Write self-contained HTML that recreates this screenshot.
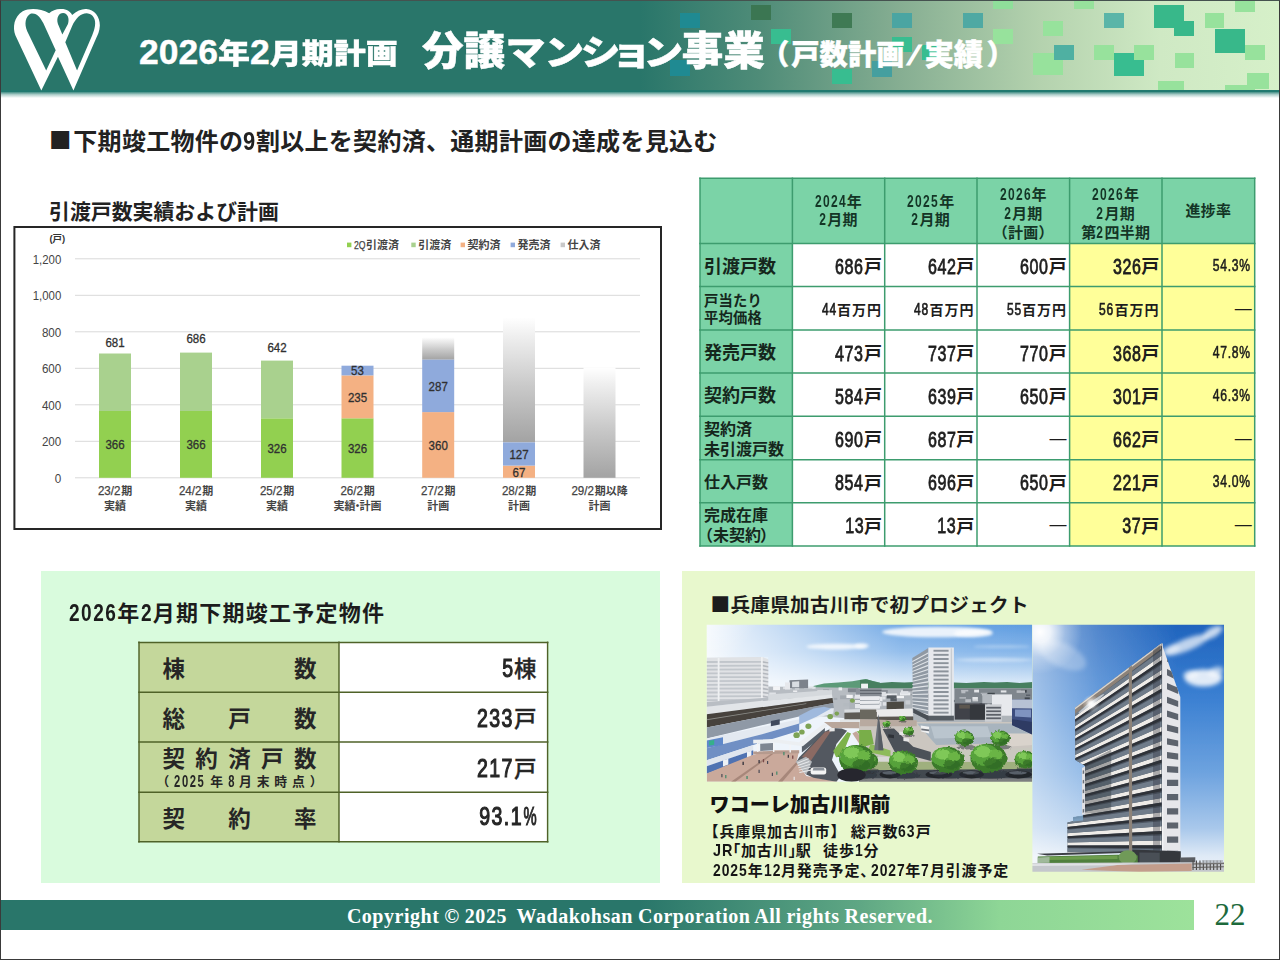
<!DOCTYPE html>
<html lang="ja">
<head>
<meta charset="utf-8">
<title>2026年2月期計画 分譲マンション事業（戸数計画/実績）</title>
<style>
*{box-sizing:border-box;margin:0;padding:0}
html,body{width:1280px;height:960px;overflow:hidden;background:#fff}
body{font-family:"Liberation Sans","Noto Sans CJK JP",sans-serif;color:#222}
#slide{position:absolute;left:0;top:0;width:1280px;height:960px;background:#fff;overflow:hidden}
.abs{position:absolute}
.nw{white-space:nowrap}
.n{display:inline-block;font-family:"Liberation Sans",sans-serif}
.cj{font-family:"Noto Sans CJK JP",sans-serif}
/* frame */
#frame{position:absolute;left:0;top:0;width:1280px;height:960px;border:1px solid #3a3a3a;border-top:1.5px solid #45524f;pointer-events:none;z-index:50}
/* header */
#hdr{position:absolute;left:0;top:0;width:1280px;height:92px;background:linear-gradient(90deg,#29766a 0,#29766a 640px,#4f8c78 760px,#86ae92 900px,#b4d2ae 1040px,#cfe9c4 1160px,#d6f0c9 1280px);border-bottom:2px solid #217a70;overflow:hidden}
#hdrshadow{position:absolute;left:0;top:92px;width:1280px;height:6px;background:linear-gradient(180deg,rgba(33,122,112,.85),rgba(33,122,112,.35) 45%,rgba(33,122,112,0))}
.sq{position:absolute}
.ttl{position:absolute;color:#fff;white-space:nowrap;font-family:"Liberation Sans","Noto Sans CJK JP",sans-serif}
/* footer */
#ftr{position:absolute;left:0;top:900px;width:1194px;height:30px;background:linear-gradient(90deg,#29766a 0,#29766a 640px,#5fa784 860px,#8ed696 1000px,#9de29b 1194px)}
#ftrtxt{position:absolute;left:0;top:901.5px;width:1280px;height:30px;line-height:29px;text-align:center;color:#fff;font-family:"Liberation Serif","DejaVu Serif",serif;font-weight:bold;font-size:20px;word-spacing:-.5px;letter-spacing:.52px;white-space:pre}
#pgno{position:absolute;left:1200px;top:894.5px;width:60px;text-align:center;font-family:"Liberation Serif",serif;font-size:31px;color:#1d6a3c;line-height:40px}
/* table */
.th,.tl,.td{position:absolute;display:flex;align-items:center;white-space:nowrap}
.th{justify-content:center;text-align:center;font-size:15px;line-height:18.8px;letter-spacing:.3px;font-weight:bold;color:#143526}
.tl{justify-content:flex-start;padding-left:4px;padding-top:3.6px;font-weight:bold;color:#15271c}
.tl.r18{font-size:18px;line-height:20px}
.tl.r16{font-size:16px;line-height:20px}
.tl.r14{font-size:14.3px;line-height:16.9px;letter-spacing:.2px}
.td{justify-content:flex-end;padding-right:2.8px;padding-top:2px;color:#1d1d1d}
.td.vb{font-size:18px;font-weight:bold}
.td.vs{font-size:14px;font-weight:bold;letter-spacing:1px;padding-right:2.6px}
.td.pct{font-size:13px;padding-right:3.6px}
.td.dash{font-size:17px;font-weight:500;padding-right:3px}
/* panels */
#pl{position:absolute;left:41px;top:570.5px;width:619px;height:312.5px;background:#d9fbdd}
#pr{position:absolute;left:682px;top:570.5px;width:573px;height:312.5px;background:#e8f8cd}
/* mini table */
.ml{position:absolute;display:flex;flex-direction:column;justify-content:center;padding:4.4px 22.5px 0 23.5px;color:#262626;font-weight:bold}
.mlrow{display:flex;justify-content:space-between;font-size:22.5px;line-height:25px;white-space:nowrap}
.mlsub{display:flex;justify-content:space-between;font-size:12.8px;line-height:16px;white-space:nowrap;font-weight:bold;margin:2.5px -6px 0 -6px}
.mv{position:absolute;display:flex;align-items:center;justify-content:flex-end;padding-right:11px;font-size:22.5px;font-weight:500;-webkit-text-stroke:.3px #262626;color:#262626;white-space:nowrap}
.cap{font-size:15px;line-height:20px;font-weight:bold;color:#151515;letter-spacing:.85px}

</style>
</head>
<body>
<div id="slide">

<!-- ================= HEADER ================= -->
<div id="hdr">
<div class="sq" style="left:680px;top:12.5px;width:20px;height:15px;background:#1f8a92"></div>
<div class="sq" style="left:670px;top:60px;width:20px;height:16px;background:#1f8a92"></div>
<div class="sq" style="left:751px;top:5px;width:20px;height:15px;background:#3b7652"></div>
<div class="sq" style="left:771px;top:29px;width:20px;height:15px;background:#38bd90"></div>
<div class="sq" style="left:832px;top:13px;width:20px;height:15px;background:#3f7a54"></div>
<div class="sq" style="left:892px;top:12.5px;width:20px;height:15px;background:#4aa5a2"></div>
<div class="sq" style="left:892px;top:36.5px;width:20px;height:15px;background:#38bd90"></div>
<div class="sq" style="left:832px;top:68.5px;width:20px;height:15.5px;background:#38bd90"></div>
<div class="sq" style="left:872px;top:60.5px;width:20px;height:16px;background:#459f9f"></div>
<div class="sq" style="left:922px;top:45px;width:20px;height:15px;background:#38bd90"></div>
<div class="sq" style="left:962.5px;top:13px;width:20px;height:15px;background:#4fa9a3"></div>
<div class="sq" style="left:992.5px;top:29px;width:20px;height:15px;background:#97e29c"></div>
<div class="sq" style="left:992.5px;top:0px;width:20px;height:9px;background:#8fdf9a"></div>
<div class="sq" style="left:1042.5px;top:21px;width:20px;height:15px;background:#97e29c"></div>
<div class="sq" style="left:1074px;top:0px;width:20px;height:9px;background:#97e29c"></div>
<div class="sq" style="left:1104px;top:13px;width:19.5px;height:15px;background:#5ab5a8"></div>
<div class="sq" style="left:1154px;top:5px;width:30px;height:23px;background:#38b88a"></div>
<div class="sq" style="left:1174px;top:21px;width:20px;height:15px;background:#38b88a"></div>
<div class="sq" style="left:1204.5px;top:13px;width:19.5px;height:15px;background:#97e29c"></div>
<div class="sq" style="left:1235px;top:0px;width:19.5px;height:12px;background:#97e29c"></div>
<div class="sq" style="left:1215px;top:29px;width:30px;height:23.5px;background:#38b88a"></div>
<div class="sq" style="left:1245px;top:45px;width:19.5px;height:15px;background:#97e29c"></div>
<div class="sq" style="left:1033px;top:52.5px;width:30px;height:22.5px;background:#97e29c"></div>
<div class="sq" style="left:1054px;top:44.5px;width:19.5px;height:15.5px;background:#4fb0a2"></div>
<div class="sq" style="left:1094px;top:45px;width:19.5px;height:15px;background:#97e29c"></div>
<div class="sq" style="left:1114px;top:52.5px;width:30px;height:23.5px;background:#38bd90"></div>
<div class="sq" style="left:1134px;top:45px;width:20px;height:15px;background:#97e29c"></div>
<div class="sq" style="left:1174.5px;top:52.5px;width:19.5px;height:15px;background:#97e29c"></div>
<div class="sq" style="left:1157.5px;top:81px;width:26.5px;height:11px;background:#97e29c"></div>
<div class="sq" style="left:1247px;top:72.5px;width:22px;height:16.5px;background:#97e29c"></div>
<div class="sq" style="left:1225px;top:84.5px;width:30px;height:7px;background:#97e29c"></div>
</div>
<div id="hdrshadow"></div>
<svg class="abs" id="logo" style="left:8px;top:2.8px" width="100" height="94" viewBox="0 0 1021 960"><path fill="#fff" fill-rule="evenodd" d="M340,893 L75,330 C45,250 60,140 150,85 C220,50 330,55 420,105 C450,75 500,58 545,62 C600,62 640,90 655,122 C700,80 760,58 800,62 C880,65 940,140 938,230 C936,290 915,330 900,360 L668,893 L510,548 Z M390,690 L195,285 C165,215 175,140 235,108 C290,95 335,150 360,205 L487,482 Z M555,322 L510,215 C490,150 520,102 562,102 C610,105 630,160 612,215 Z M705,690 L585,400 L655,235 C690,160 740,105 805,105 C870,110 900,170 888,235 C880,280 870,300 860,330 Z"/></svg>
<div class="ttl" id="t1" style="left:139px;top:29px;font-size:32px;line-height:46px;font-weight:900;-webkit-text-stroke:.4px #fff"><span style="font-size:35.5px;font-weight:bold">2026</span><span style="display:inline-block;transform:scaleY(.9);transform-origin:50% 80%">年</span><span style="font-size:35.5px;font-weight:bold">2</span><span style="display:inline-block;transform:scaleY(.9);transform-origin:50% 80%">月期計画</span></div>
<div class="ttl" id="t2" style="left:422px;top:22.5px;font-size:41.5px;line-height:56px;font-weight:900;-webkit-text-stroke:.5px #fff"><span style="display:inline-block;transform:scaleY(.945);transform-origin:50% 80%">分譲</span><span style="display:inline-block;font-size:40px;transform:scaleY(.875);transform-origin:50% 76%;margin-left:.5px;margin-right:-1.2px">マ</span><span style="display:inline-block;font-size:40px;transform:scaleY(.875);transform-origin:50% 76%;margin-right:-3.8px">ン</span><span style="display:inline-block;font-size:40px;transform:scaleY(.875);transform-origin:50% 76%;margin-right:-9.2px">シ</span><span style="display:inline-block;font-size:40px;transform:scaleY(.875);transform-origin:50% 76%;margin-right:-8.2px">ョ</span><span style="display:inline-block;font-size:40px;transform:scaleY(.875);transform-origin:50% 76%;margin-right:-1.5px">ン</span><span style="display:inline-block;transform:scaleY(.945);transform-origin:50% 80%">事業</span></div>
<div class="ttl" id="t3" style="left:761px;top:32px;font-size:28.3px;line-height:46px;font-weight:900;-webkit-text-stroke:.4px #fff"><span style="margin-right:2px">（</span>戸数計画<span style="display:inline-block;transform:skewX(-20deg) scaleX(1.25);-webkit-text-stroke:0;margin:0 6.5px 0 5.5px">/</span><span style="font-size:29.3px">実績</span><span style="margin-left:3.5px">）</span></div>

<!-- subtitle -->
<div class="abs nw" id="sub" style="left:49px;top:122px;font-size:24px;line-height:36px;font-weight:bold;color:#222;letter-spacing:.3px"><span class="cj" style="font-size:22.4px;position:relative;top:-.6px;margin-right:1.6px">■</span>下期竣工物件の<span class="n" style="font-size:25.5px;font-weight:bold;transform:scaleX(0.86);transform-origin:50% 50%;margin:0 -0.99px;">9</span>割以上を契約済、通期計画の達成を見込む</div>

<!-- ================= CHART ================= -->
<div class="abs nw" id="ctitle" style="left:49px;top:196.7px;font-size:20.9px;line-height:30px;font-weight:bold;letter-spacing:0;color:#222">引渡戸数実績および計画</div>
<svg class="abs" id="chart" style="left:0;top:220px" width="680" height="320" viewBox="0 220 680 320" font-family="'Liberation Sans','Noto Sans CJK JP',sans-serif">
<defs><linearGradient id="gg" x1="0" y1="1" x2="0" y2="0"><stop offset="0" stop-color="#a3a3a3"/><stop offset=".45" stop-color="#c9c9c9"/><stop offset=".85" stop-color="#efefef"/><stop offset="1" stop-color="#ffffff"/></linearGradient></defs>
<rect x="14.4" y="227" width="646.6" height="302" fill="#fff" stroke="#262626" stroke-width="2"/>
<line x1="75" x2="640" y1="477.8" y2="477.8" stroke="#d9d9d9" stroke-width="1"/>
<text x="61.3" y="482.5" text-anchor="end" font-size="13" fill="#444" textLength="6.5" lengthAdjust="spacingAndGlyphs">0</text>
<line x1="75" x2="640" y1="441.3" y2="441.3" stroke="#d9d9d9" stroke-width="1"/>
<text x="61.3" y="446.0" text-anchor="end" font-size="13" fill="#444" textLength="19.4" lengthAdjust="spacingAndGlyphs">200</text>
<line x1="75" x2="640" y1="404.8" y2="404.8" stroke="#d9d9d9" stroke-width="1"/>
<text x="61.3" y="409.5" text-anchor="end" font-size="13" fill="#444" textLength="19.4" lengthAdjust="spacingAndGlyphs">400</text>
<line x1="75" x2="640" y1="368.3" y2="368.3" stroke="#d9d9d9" stroke-width="1"/>
<text x="61.3" y="373.0" text-anchor="end" font-size="13" fill="#444" textLength="19.4" lengthAdjust="spacingAndGlyphs">600</text>
<line x1="75" x2="640" y1="331.8" y2="331.8" stroke="#d9d9d9" stroke-width="1"/>
<text x="61.3" y="336.5" text-anchor="end" font-size="13" fill="#444" textLength="19.4" lengthAdjust="spacingAndGlyphs">800</text>
<line x1="75" x2="640" y1="295.3" y2="295.3" stroke="#d9d9d9" stroke-width="1"/>
<text x="61.3" y="300.0" text-anchor="end" font-size="13" fill="#444" textLength="28.6" lengthAdjust="spacingAndGlyphs">1,000</text>
<line x1="75" x2="640" y1="258.8" y2="258.8" stroke="#d9d9d9" stroke-width="1"/>
<text x="61.3" y="263.5" text-anchor="end" font-size="13" fill="#444" textLength="28.6" lengthAdjust="spacingAndGlyphs">1,200</text>
<text x="57.3" y="242.3" text-anchor="middle" font-size="9.5" font-weight="bold" fill="#333">(戸)</text>
<rect x="422.2" y="337.3" width="32" height="22.4" fill="url(#gg)"/>
<rect x="503.0" y="317.2" width="32" height="125.2" fill="url(#gg)"/>
<rect x="583.5" y="367.4" width="32" height="110.4" fill="url(#gg)"/>
<rect x="99.0" y="411.0" width="32" height="66.8" fill="#92d050"/>
<rect x="99.0" y="353.5" width="32" height="57.5" fill="#a9d18e"/>
<rect x="180.0" y="411.0" width="32" height="66.8" fill="#92d050"/>
<rect x="180.0" y="352.6" width="32" height="58.4" fill="#a9d18e"/>
<rect x="261.0" y="418.3" width="32" height="59.5" fill="#92d050"/>
<rect x="261.0" y="360.6" width="32" height="57.7" fill="#a9d18e"/>
<rect x="341.5" y="418.3" width="32" height="59.5" fill="#92d050"/>
<rect x="341.5" y="375.4" width="32" height="42.9" fill="#f4b183"/>
<rect x="341.5" y="365.7" width="32" height="9.7" fill="#8faadc"/>
<rect x="422.2" y="412.1" width="32" height="65.7" fill="#f4b183"/>
<rect x="422.2" y="359.7" width="32" height="52.4" fill="#8faadc"/>
<rect x="503.0" y="465.6" width="32" height="12.2" fill="#f4b183"/>
<rect x="503.0" y="442.4" width="32" height="23.2" fill="#8faadc"/>
<text x="115" y="449.1" text-anchor="middle" font-size="13.3" fill="#303030" stroke="#303030" stroke-width=".32" textLength="19.2" lengthAdjust="spacingAndGlyphs">366</text>
<text x="196" y="449.1" text-anchor="middle" font-size="13.3" fill="#303030" stroke="#303030" stroke-width=".32" textLength="19.2" lengthAdjust="spacingAndGlyphs">366</text>
<text x="277" y="452.8" text-anchor="middle" font-size="13.3" fill="#303030" stroke="#303030" stroke-width=".32" textLength="19.2" lengthAdjust="spacingAndGlyphs">326</text>
<text x="357.5" y="452.8" text-anchor="middle" font-size="13.3" fill="#303030" stroke="#303030" stroke-width=".32" textLength="19.2" lengthAdjust="spacingAndGlyphs">326</text>
<text x="115" y="346.7" text-anchor="middle" font-size="13.3" fill="#303030" stroke="#303030" stroke-width=".32" textLength="19.2" lengthAdjust="spacingAndGlyphs">681</text>
<text x="196" y="343.3" text-anchor="middle" font-size="13.3" fill="#303030" stroke="#303030" stroke-width=".32" textLength="19.2" lengthAdjust="spacingAndGlyphs">686</text>
<text x="277" y="351.5" text-anchor="middle" font-size="13.3" fill="#303030" stroke="#303030" stroke-width=".32" textLength="19.2" lengthAdjust="spacingAndGlyphs">642</text>
<text x="357.5" y="401.7" text-anchor="middle" font-size="13.3" fill="#303030" stroke="#303030" stroke-width=".32" textLength="19.2" lengthAdjust="spacingAndGlyphs">235</text>
<text x="357.5" y="375.4" text-anchor="middle" font-size="13.3" fill="#303030" stroke="#303030" stroke-width=".32" textLength="12.8" lengthAdjust="spacingAndGlyphs">53</text>
<text x="438.2" y="449.7" text-anchor="middle" font-size="13.3" fill="#303030" stroke="#303030" stroke-width=".32" textLength="19.2" lengthAdjust="spacingAndGlyphs">360</text>
<text x="438.2" y="390.7" text-anchor="middle" font-size="13.3" fill="#303030" stroke="#303030" stroke-width=".32" textLength="19.2" lengthAdjust="spacingAndGlyphs">287</text>
<text x="519" y="458.9" text-anchor="middle" font-size="13.3" fill="#303030" stroke="#303030" stroke-width=".32" textLength="19.2" lengthAdjust="spacingAndGlyphs">127</text>
<text x="519" y="476.5" text-anchor="middle" font-size="13.3" fill="#303030" stroke="#303030" stroke-width=".32" textLength="12.8" lengthAdjust="spacingAndGlyphs">67</text>
<text x="97.9" y="495.2" font-size="12.6" fill="#444" stroke="#444" stroke-width=".25" textLength="22.6" lengthAdjust="spacingAndGlyphs">23/2</text>
<text x="121.3" y="495" font-size="11" font-weight="bold" fill="#444">期</text>
<text x="115" y="509.5" text-anchor="middle" font-size="11" font-weight="bold" fill="#444">実績</text>
<text x="178.9" y="495.2" font-size="12.6" fill="#444" stroke="#444" stroke-width=".25" textLength="22.6" lengthAdjust="spacingAndGlyphs">24/2</text>
<text x="202.3" y="495" font-size="11" font-weight="bold" fill="#444">期</text>
<text x="196" y="509.5" text-anchor="middle" font-size="11" font-weight="bold" fill="#444">実績</text>
<text x="259.9" y="495.2" font-size="12.6" fill="#444" stroke="#444" stroke-width=".25" textLength="22.6" lengthAdjust="spacingAndGlyphs">25/2</text>
<text x="283.3" y="495" font-size="11" font-weight="bold" fill="#444">期</text>
<text x="277" y="509.5" text-anchor="middle" font-size="11" font-weight="bold" fill="#444">実績</text>
<text x="340.4" y="495.2" font-size="12.6" fill="#444" stroke="#444" stroke-width=".25" textLength="22.6" lengthAdjust="spacingAndGlyphs">26/2</text>
<text x="363.8" y="495" font-size="11" font-weight="bold" fill="#444">期</text>
<text x="357.5" y="509.5" text-anchor="middle" font-size="11" font-weight="bold" fill="#444">実績<tspan dx="-3.6">・</tspan><tspan dx="-3.6">計画</tspan></text>
<text x="421.1" y="495.2" font-size="12.6" fill="#444" stroke="#444" stroke-width=".25" textLength="22.6" lengthAdjust="spacingAndGlyphs">27/2</text>
<text x="444.5" y="495" font-size="11" font-weight="bold" fill="#444">期</text>
<text x="438.2" y="509.5" text-anchor="middle" font-size="11" font-weight="bold" fill="#444">計画</text>
<text x="501.9" y="495.2" font-size="12.6" fill="#444" stroke="#444" stroke-width=".25" textLength="22.6" lengthAdjust="spacingAndGlyphs">28/2</text>
<text x="525.3" y="495" font-size="11" font-weight="bold" fill="#444">期</text>
<text x="519" y="509.5" text-anchor="middle" font-size="11" font-weight="bold" fill="#444">計画</text>
<text x="571.4" y="495.2" font-size="12.6" fill="#444" stroke="#444" stroke-width=".25" textLength="22.6" lengthAdjust="spacingAndGlyphs">29/2</text>
<text x="594.8" y="495" font-size="11" font-weight="bold" fill="#444">期以降</text>
<text x="599.5" y="509.5" text-anchor="middle" font-size="11" font-weight="bold" fill="#444">計画</text>
<rect x="347" y="242.6" width="4.4" height="4.6" fill="#92d050"/>
<text x="354" y="248.6" font-size="11.5" fill="#444" stroke="#444" stroke-width=".25" textLength="11.6" lengthAdjust="spacingAndGlyphs">2Q</text>
<text x="366" y="248.6" font-size="11" font-weight="bold" fill="#444">引渡済</text>
<rect x="411.3" y="242.6" width="4.4" height="4.6" fill="#a9d18e"/>
<text x="418.3" y="248.6" font-size="11" font-weight="bold" fill="#444">引渡済</text>
<rect x="460.6" y="242.6" width="4.4" height="4.6" fill="#f4b183"/>
<text x="467.6" y="248.6" font-size="11" font-weight="bold" fill="#444">契約済</text>
<rect x="510.6" y="242.6" width="4.4" height="4.6" fill="#8faadc"/>
<text x="517.6" y="248.6" font-size="11" font-weight="bold" fill="#444">発売済</text>
<rect x="560.6" y="242.6" width="4.4" height="4.6" fill="#c8c8c8"/>
<text x="567.6" y="248.6" font-size="11" font-weight="bold" fill="#444">仕入済</text>
</svg>

<!-- ================= TABLE ================= -->
<svg class="abs" id="tblbg" style="left:690px;top:170px" width="580" height="390" viewBox="690 170 580 390">
<rect x="700" y="178.3" width="554.7" height="367.7" fill="#fff"/>
<rect x="700" y="178.3" width="554.7" height="65.1" fill="#7bd3a7"/>
<rect x="700" y="178.3" width="92.4" height="367.7" fill="#7bd3a7"/>
<rect x="1069.6" y="243.4" width="185.1" height="302.6" fill="#ffff99"/>
<line x1="700" x2="700" y1="177.55" y2="546.75" stroke="#3d9c6e" stroke-width="1.5"/>
<line x1="792.4" x2="792.4" y1="177.55" y2="546.75" stroke="#3d9c6e" stroke-width="1.5"/>
<line x1="884.7" x2="884.7" y1="177.55" y2="546.75" stroke="#3d9c6e" stroke-width="1.5"/>
<line x1="977" x2="977" y1="177.55" y2="546.75" stroke="#3d9c6e" stroke-width="1.5"/>
<line x1="1069.6" x2="1069.6" y1="177.55" y2="546.75" stroke="#3d9c6e" stroke-width="1.5"/>
<line x1="1162" x2="1162" y1="177.55" y2="546.75" stroke="#3d9c6e" stroke-width="1.5"/>
<line x1="1254.7" x2="1254.7" y1="177.55" y2="546.75" stroke="#3d9c6e" stroke-width="1.5"/>
<line x1="699.25" x2="1255.45" y1="178.3" y2="178.3" stroke="#3d9c6e" stroke-width="1.5"/>
<line x1="699.25" x2="1255.45" y1="243.4" y2="243.4" stroke="#3d9c6e" stroke-width="1.5"/>
<line x1="699.25" x2="1255.45" y1="286.5" y2="286.5" stroke="#3d9c6e" stroke-width="1.5"/>
<line x1="699.25" x2="1255.45" y1="330" y2="330" stroke="#3d9c6e" stroke-width="1.5"/>
<line x1="699.25" x2="1255.45" y1="373" y2="373" stroke="#3d9c6e" stroke-width="1.5"/>
<line x1="699.25" x2="1255.45" y1="416.3" y2="416.3" stroke="#3d9c6e" stroke-width="1.5"/>
<line x1="699.25" x2="1255.45" y1="459.7" y2="459.7" stroke="#3d9c6e" stroke-width="1.5"/>
<line x1="699.25" x2="1255.45" y1="502.8" y2="502.8" stroke="#3d9c6e" stroke-width="1.5"/>
<line x1="699.25" x2="1255.45" y1="546" y2="546" stroke="#3d9c6e" stroke-width="1.5"/>
</svg>
<div class="th" style="left:792.4px;width:92.3px;top:178.3px;height:65.1px;padding-top:1px"><div><span class="n" style="font-size:15.8px;letter-spacing:1.7px;font-weight:bold;transform:scaleX(0.76);transform-origin:50% 50%;margin:0 -5.04px;">2024</span>年<br><span class="n" style="font-size:15.8px;letter-spacing:1.7px;font-weight:bold;transform:scaleX(0.76);transform-origin:50% 50%;margin:0 -1.26px;">2</span>月期</div></div>
<div class="th" style="left:884.7px;width:92.3px;top:178.3px;height:65.1px;padding-top:1px"><div><span class="n" style="font-size:15.8px;letter-spacing:1.7px;font-weight:bold;transform:scaleX(0.76);transform-origin:50% 50%;margin:0 -5.04px;">2025</span>年<br><span class="n" style="font-size:15.8px;letter-spacing:1.7px;font-weight:bold;transform:scaleX(0.76);transform-origin:50% 50%;margin:0 -1.26px;">2</span>月期</div></div>
<div class="th" style="left:977px;width:92.6px;top:178.3px;height:65.1px;padding-top:7px"><div><span class="n" style="font-size:15.8px;letter-spacing:1.7px;font-weight:bold;transform:scaleX(0.76);transform-origin:50% 50%;margin:0 -5.04px;">2026</span>年<br><span class="n" style="font-size:15.8px;letter-spacing:1.7px;font-weight:bold;transform:scaleX(0.76);transform-origin:50% 50%;margin:0 -1.26px;">2</span>月期<br>（計画）</div></div>
<div class="th" style="left:1069.6px;width:92.4px;top:178.3px;height:65.1px;padding-top:7px"><div><span class="n" style="font-size:15.8px;letter-spacing:1.7px;font-weight:bold;transform:scaleX(0.76);transform-origin:50% 50%;margin:0 -5.04px;">2026</span>年<br><span class="n" style="font-size:15.8px;letter-spacing:1.7px;font-weight:bold;transform:scaleX(0.76);transform-origin:50% 50%;margin:0 -1.26px;">2</span>月期<br>第<span class="n" style="font-size:15.8px;letter-spacing:1.7px;font-weight:bold;transform:scaleX(0.76);transform-origin:50% 50%;margin:0 -1.26px;">2</span>四半期</div></div>
<div class="th" style="left:1162px;width:92.7px;top:178.3px;height:65.1px;padding-top:1px"><div>進捗率</div></div>
<div class="tl r18" style="left:700px;width:92.4px;top:243.4px;height:43.1px"><div>引渡戸数</div></div>
<div class="td vb" style="left:792.4px;width:92.3px;top:243.4px;height:43.1px"><div><span class="n" style="font-size:22.3px;letter-spacing:0.75px;font-weight:normal;transform:scaleX(0.72);transform-origin:100% 50%;margin-left:-11.04px;position:relative;top:.6px;-webkit-text-stroke:.8px #1d1d1d">686</span>戸</div></div>
<div class="td vb" style="left:884.7px;width:92.3px;top:243.4px;height:43.1px"><div><span class="n" style="font-size:22.3px;letter-spacing:0.75px;font-weight:normal;transform:scaleX(0.72);transform-origin:100% 50%;margin-left:-11.04px;position:relative;top:.6px;-webkit-text-stroke:.8px #1d1d1d">642</span>戸</div></div>
<div class="td vb" style="left:977px;width:92.6px;top:243.4px;height:43.1px"><div><span class="n" style="font-size:22.3px;letter-spacing:0.75px;font-weight:normal;transform:scaleX(0.72);transform-origin:100% 50%;margin-left:-11.04px;position:relative;top:.6px;-webkit-text-stroke:.8px #1d1d1d">600</span>戸</div></div>
<div class="td vb" style="left:1069.6px;width:92.4px;top:243.4px;height:43.1px"><div><span class="n" style="font-size:22.3px;letter-spacing:0.75px;font-weight:normal;transform:scaleX(0.72);transform-origin:100% 50%;margin-left:-11.04px;position:relative;top:.6px;-webkit-text-stroke:.8px #1d1d1d">326</span>戸</div></div>
<div class="td pct" style="left:1162px;width:92.7px;top:243.4px;height:43.1px"><div><span class="n" style="font-size:15.6px;letter-spacing:0.9px;font-weight:normal;transform:scaleX(0.78);transform-origin:100% 50%;margin-left:-10.72px;-webkit-text-stroke:.55px #1d1d1d">54.3%</span></div></div>
<div class="tl r14" style="left:700px;width:92.4px;top:286.5px;height:43.5px"><div>戸当たり<br>平均価格</div></div>
<div class="td vs" style="left:792.4px;width:92.3px;top:286.5px;height:43.5px"><div><span class="n" style="font-size:16px;letter-spacing:1.1px;font-weight:normal;transform:scaleX(0.75);transform-origin:100% 50%;margin-left:-5.0px;-webkit-text-stroke:.7px #1d1d1d">44</span>百万円</div></div>
<div class="td vs" style="left:884.7px;width:92.3px;top:286.5px;height:43.5px"><div><span class="n" style="font-size:16px;letter-spacing:1.1px;font-weight:normal;transform:scaleX(0.75);transform-origin:100% 50%;margin-left:-5.0px;-webkit-text-stroke:.7px #1d1d1d">48</span>百万円</div></div>
<div class="td vs" style="left:977px;width:92.6px;top:286.5px;height:43.5px"><div><span class="n" style="font-size:16px;letter-spacing:1.1px;font-weight:normal;transform:scaleX(0.75);transform-origin:100% 50%;margin-left:-5.0px;-webkit-text-stroke:.7px #1d1d1d">55</span>百万円</div></div>
<div class="td vs" style="left:1069.6px;width:92.4px;top:286.5px;height:43.5px"><div><span class="n" style="font-size:16px;letter-spacing:1.1px;font-weight:normal;transform:scaleX(0.75);transform-origin:100% 50%;margin-left:-5.0px;-webkit-text-stroke:.7px #1d1d1d">56</span>百万円</div></div>
<div class="td dash" style="left:1162px;width:92.7px;top:286.5px;height:43.5px"><div>―</div></div>
<div class="tl r18" style="left:700px;width:92.4px;top:330px;height:43px"><div>発売戸数</div></div>
<div class="td vb" style="left:792.4px;width:92.3px;top:330px;height:43px"><div><span class="n" style="font-size:22.3px;letter-spacing:0.75px;font-weight:normal;transform:scaleX(0.72);transform-origin:100% 50%;margin-left:-11.04px;position:relative;top:.6px;-webkit-text-stroke:.8px #1d1d1d">473</span>戸</div></div>
<div class="td vb" style="left:884.7px;width:92.3px;top:330px;height:43px"><div><span class="n" style="font-size:22.3px;letter-spacing:0.75px;font-weight:normal;transform:scaleX(0.72);transform-origin:100% 50%;margin-left:-11.04px;position:relative;top:.6px;-webkit-text-stroke:.8px #1d1d1d">737</span>戸</div></div>
<div class="td vb" style="left:977px;width:92.6px;top:330px;height:43px"><div><span class="n" style="font-size:22.3px;letter-spacing:0.75px;font-weight:normal;transform:scaleX(0.72);transform-origin:100% 50%;margin-left:-11.04px;position:relative;top:.6px;-webkit-text-stroke:.8px #1d1d1d">770</span>戸</div></div>
<div class="td vb" style="left:1069.6px;width:92.4px;top:330px;height:43px"><div><span class="n" style="font-size:22.3px;letter-spacing:0.75px;font-weight:normal;transform:scaleX(0.72);transform-origin:100% 50%;margin-left:-11.04px;position:relative;top:.6px;-webkit-text-stroke:.8px #1d1d1d">368</span>戸</div></div>
<div class="td pct" style="left:1162px;width:92.7px;top:330px;height:43px"><div><span class="n" style="font-size:15.6px;letter-spacing:0.9px;font-weight:normal;transform:scaleX(0.78);transform-origin:100% 50%;margin-left:-10.72px;-webkit-text-stroke:.55px #1d1d1d">47.8%</span></div></div>
<div class="tl r18" style="left:700px;width:92.4px;top:373px;height:43.3px"><div>契約戸数</div></div>
<div class="td vb" style="left:792.4px;width:92.3px;top:373px;height:43.3px"><div><span class="n" style="font-size:22.3px;letter-spacing:0.75px;font-weight:normal;transform:scaleX(0.72);transform-origin:100% 50%;margin-left:-11.04px;position:relative;top:.6px;-webkit-text-stroke:.8px #1d1d1d">584</span>戸</div></div>
<div class="td vb" style="left:884.7px;width:92.3px;top:373px;height:43.3px"><div><span class="n" style="font-size:22.3px;letter-spacing:0.75px;font-weight:normal;transform:scaleX(0.72);transform-origin:100% 50%;margin-left:-11.04px;position:relative;top:.6px;-webkit-text-stroke:.8px #1d1d1d">639</span>戸</div></div>
<div class="td vb" style="left:977px;width:92.6px;top:373px;height:43.3px"><div><span class="n" style="font-size:22.3px;letter-spacing:0.75px;font-weight:normal;transform:scaleX(0.72);transform-origin:100% 50%;margin-left:-11.04px;position:relative;top:.6px;-webkit-text-stroke:.8px #1d1d1d">650</span>戸</div></div>
<div class="td vb" style="left:1069.6px;width:92.4px;top:373px;height:43.3px"><div><span class="n" style="font-size:22.3px;letter-spacing:0.75px;font-weight:normal;transform:scaleX(0.72);transform-origin:100% 50%;margin-left:-11.04px;position:relative;top:.6px;-webkit-text-stroke:.8px #1d1d1d">301</span>戸</div></div>
<div class="td pct" style="left:1162px;width:92.7px;top:373px;height:43.3px"><div><span class="n" style="font-size:15.6px;letter-spacing:0.9px;font-weight:normal;transform:scaleX(0.78);transform-origin:100% 50%;margin-left:-10.72px;-webkit-text-stroke:.55px #1d1d1d">46.3%</span></div></div>
<div class="tl r16" style="left:700px;width:92.4px;top:416.3px;height:43.4px"><div>契約済<br>未引渡戸数</div></div>
<div class="td vb" style="left:792.4px;width:92.3px;top:416.3px;height:43.4px"><div><span class="n" style="font-size:22.3px;letter-spacing:0.75px;font-weight:normal;transform:scaleX(0.72);transform-origin:100% 50%;margin-left:-11.04px;position:relative;top:.6px;-webkit-text-stroke:.8px #1d1d1d">690</span>戸</div></div>
<div class="td vb" style="left:884.7px;width:92.3px;top:416.3px;height:43.4px"><div><span class="n" style="font-size:22.3px;letter-spacing:0.75px;font-weight:normal;transform:scaleX(0.72);transform-origin:100% 50%;margin-left:-11.04px;position:relative;top:.6px;-webkit-text-stroke:.8px #1d1d1d">687</span>戸</div></div>
<div class="td dash" style="left:977px;width:92.6px;top:416.3px;height:43.4px"><div>―</div></div>
<div class="td vb" style="left:1069.6px;width:92.4px;top:416.3px;height:43.4px"><div><span class="n" style="font-size:22.3px;letter-spacing:0.75px;font-weight:normal;transform:scaleX(0.72);transform-origin:100% 50%;margin-left:-11.04px;position:relative;top:.6px;-webkit-text-stroke:.8px #1d1d1d">662</span>戸</div></div>
<div class="td dash" style="left:1162px;width:92.7px;top:416.3px;height:43.4px"><div>―</div></div>
<div class="tl r16" style="left:700px;width:92.4px;top:459.7px;height:43.1px"><div>仕入戸数</div></div>
<div class="td vb" style="left:792.4px;width:92.3px;top:459.7px;height:43.1px"><div><span class="n" style="font-size:22.3px;letter-spacing:0.75px;font-weight:normal;transform:scaleX(0.72);transform-origin:100% 50%;margin-left:-11.04px;position:relative;top:.6px;-webkit-text-stroke:.8px #1d1d1d">854</span>戸</div></div>
<div class="td vb" style="left:884.7px;width:92.3px;top:459.7px;height:43.1px"><div><span class="n" style="font-size:22.3px;letter-spacing:0.75px;font-weight:normal;transform:scaleX(0.72);transform-origin:100% 50%;margin-left:-11.04px;position:relative;top:.6px;-webkit-text-stroke:.8px #1d1d1d">696</span>戸</div></div>
<div class="td vb" style="left:977px;width:92.6px;top:459.7px;height:43.1px"><div><span class="n" style="font-size:22.3px;letter-spacing:0.75px;font-weight:normal;transform:scaleX(0.72);transform-origin:100% 50%;margin-left:-11.04px;position:relative;top:.6px;-webkit-text-stroke:.8px #1d1d1d">650</span>戸</div></div>
<div class="td vb" style="left:1069.6px;width:92.4px;top:459.7px;height:43.1px"><div><span class="n" style="font-size:22.3px;letter-spacing:0.75px;font-weight:normal;transform:scaleX(0.72);transform-origin:100% 50%;margin-left:-11.04px;position:relative;top:.6px;-webkit-text-stroke:.8px #1d1d1d">221</span>戸</div></div>
<div class="td pct" style="left:1162px;width:92.7px;top:459.7px;height:43.1px"><div><span class="n" style="font-size:15.6px;letter-spacing:0.9px;font-weight:normal;transform:scaleX(0.78);transform-origin:100% 50%;margin-left:-10.72px;-webkit-text-stroke:.55px #1d1d1d">34.0%</span></div></div>
<div class="tl r16" style="left:700px;width:92.4px;top:502.8px;height:43.2px"><div>完成在庫<br><span style="margin-left:-7px">（</span>未契約<span style="margin-left:-1px">）</span></div></div>
<div class="td vb" style="left:792.4px;width:92.3px;top:502.8px;height:43.2px"><div><span class="n" style="font-size:22.3px;letter-spacing:0.75px;font-weight:normal;transform:scaleX(0.72);transform-origin:100% 50%;margin-left:-7.36px;position:relative;top:.6px;-webkit-text-stroke:.8px #1d1d1d">13</span>戸</div></div>
<div class="td vb" style="left:884.7px;width:92.3px;top:502.8px;height:43.2px"><div><span class="n" style="font-size:22.3px;letter-spacing:0.75px;font-weight:normal;transform:scaleX(0.72);transform-origin:100% 50%;margin-left:-7.36px;position:relative;top:.6px;-webkit-text-stroke:.8px #1d1d1d">13</span>戸</div></div>
<div class="td dash" style="left:977px;width:92.6px;top:502.8px;height:43.2px"><div>―</div></div>
<div class="td vb" style="left:1069.6px;width:92.4px;top:502.8px;height:43.2px"><div><span class="n" style="font-size:22.3px;letter-spacing:0.75px;font-weight:normal;transform:scaleX(0.72);transform-origin:100% 50%;margin-left:-7.36px;position:relative;top:.6px;-webkit-text-stroke:.8px #1d1d1d">37</span>戸</div></div>
<div class="td dash" style="left:1162px;width:92.7px;top:502.8px;height:43.2px"><div>―</div></div>

<!-- ================= PANELS ================= -->
<div id="pl"></div>
<div id="pr"></div>
<div class="abs nw" id="pltitle" style="left:69px;top:596px;font-size:22px;line-height:34px;font-weight:bold;letter-spacing:1.25px;color:#1c1c1c"><span class="n" style="font-size:24.8px;letter-spacing:1.9px;font-weight:bold;transform:scaleX(0.77);transform-origin:0 50%;margin-right:-14.43px;">2026</span>年<span class="n" style="font-size:24.8px;letter-spacing:1.9px;font-weight:bold;transform:scaleX(0.77);transform-origin:0 50%;margin-right:-3.61px;">2</span>月期下期竣工予定物件</div>
<svg class="abs" id="mtbg" style="left:130px;top:635px" width="430" height="215" viewBox="130 635 430 215">
<rect x="139" y="642.4" width="408.6" height="199.3" fill="#fff"/>
<rect x="139" y="642.4" width="200" height="199.3" fill="#c4d79b"/>
<line x1="139" x2="139" y1="641.6" y2="842.5" stroke="#4f6228" stroke-width="1.45"/>
<line x1="339" x2="339" y1="641.6" y2="842.5" stroke="#4f6228" stroke-width="1.45"/>
<line x1="547.6" x2="547.6" y1="641.6" y2="842.5" stroke="#4f6228" stroke-width="1.45"/>
<line x1="138.2" x2="548.4" y1="642.4" y2="642.4" stroke="#4f6228" stroke-width="1.45"/>
<line x1="138.2" x2="548.4" y1="692.3" y2="692.3" stroke="#4f6228" stroke-width="1.45"/>
<line x1="138.2" x2="548.4" y1="742" y2="742" stroke="#4f6228" stroke-width="1.45"/>
<line x1="138.2" x2="548.4" y1="792.3" y2="792.3" stroke="#4f6228" stroke-width="1.45"/>
<line x1="138.2" x2="548.4" y1="841.7" y2="841.7" stroke="#4f6228" stroke-width="1.45"/>
</svg>
<div class="ml" style="left:139px;width:200px;top:642.4px;height:49.9px"><div class="mlrow"><span>棟</span><span>数</span></div></div>
<div class="mv" style="left:339px;width:208.6px;top:642.4px;height:49.9px"><div><span class="n" style="font-size:26.4px;letter-spacing:1.9px;font-weight:normal;transform:scaleX(0.74);transform-origin:100% 50%;margin-left:-4.31px;-webkit-text-stroke:1.15px #262626">5</span>棟</div></div>
<div class="ml" style="left:139px;width:200px;top:692.3px;height:49.7px"><div class="mlrow"><span>総</span><span>戸</span><span>数</span></div></div>
<div class="mv" style="left:339px;width:208.6px;top:692.3px;height:49.7px"><div><span class="n" style="font-size:26.4px;letter-spacing:1.9px;font-weight:normal;transform:scaleX(0.74);transform-origin:100% 50%;margin-left:-12.93px;-webkit-text-stroke:1.15px #262626">233</span>戸</div></div>
<div class="ml" style="left:139px;width:200px;top:742px;height:50.3px"><div class="mlrow" style="margin-top:-.5px"><span>契</span><span>約</span><span>済</span><span>戸</span><span>数</span></div><div class="mlsub"><span>（</span><span><span class="n" style="font-size:15.6px;letter-spacing:2.2px;font-weight:bold;transform:scaleX(0.72);transform-origin:50% 50%;margin:0 -6.09px;">2025</span></span><span>年</span><span><span class="n" style="font-size:15.6px;font-weight:bold;transform:scaleX(0.72);transform-origin:50% 50%;margin:0 -1.22px;">8</span></span><span>月</span><span>末</span><span>時</span><span>点</span><span>）</span></div></div>
<div class="mv" style="left:339px;width:208.6px;top:742px;height:50.3px"><div><span class="n" style="font-size:26.4px;letter-spacing:1.9px;font-weight:normal;transform:scaleX(0.74);transform-origin:100% 50%;margin-left:-12.93px;-webkit-text-stroke:1.15px #262626">217</span>戸</div></div>
<div class="ml" style="left:139px;width:200px;top:792.3px;height:49.4px"><div class="mlrow"><span>契</span><span>約</span><span>率</span></div></div>
<div class="mv" style="left:339px;width:208.6px;top:792.3px;height:49.4px"><div><span class="n" style="font-size:26.4px;letter-spacing:1.9px;font-weight:normal;transform:scaleX(0.74);transform-origin:100% 50%;margin-left:-15.33px;-webkit-text-stroke:1.15px #262626">93.1</span><span class="n" style="font-size:25.5px;font-weight:normal;transform:scaleX(0.58);transform-origin:100% 50%;margin-left:-9.52px;-webkit-text-stroke:1.1px #262626">%</span></div></div>
<!-- right panel -->
<div class="abs nw" id="prtitle" style="left:710.5px;top:587.5px;font-size:19.6px;line-height:32px;font-weight:bold;color:#1c1c1c;letter-spacing:.3px"><span class="cj">■</span>兵庫県加古川市で初プロジェクト</div>
<svg class="abs" id="photo1" style="left:700px;top:620px" width="340" height="170" viewBox="700 620 340 170">
<defs>
<clipPath id="c1"><rect x="706.7" y="624.8" width="325.4" height="156.9"/></clipPath>
<linearGradient id="sky1" x1="0" y1="0" x2="0" y2="1"><stop offset="0" stop-color="#5c9be0"/><stop offset=".18" stop-color="#86b6ea"/><stop offset=".36" stop-color="#d3e5f7"/><stop offset=".5" stop-color="#eef4fb"/></linearGradient>
<linearGradient id="hz1" x1="0" y1="0" x2="1" y2="0"><stop offset="0" stop-color="#fff" stop-opacity=".92"/><stop offset=".3" stop-color="#fff" stop-opacity=".55"/><stop offset=".6" stop-color="#fff" stop-opacity=".12"/><stop offset="1" stop-color="#fff" stop-opacity="0"/></linearGradient>
<radialGradient id="sun1" cx="0" cy="0" r="1"><stop offset="0" stop-color="#fff" stop-opacity="1"/><stop offset=".5" stop-color="#fff" stop-opacity=".7"/><stop offset="1" stop-color="#fff" stop-opacity="0"/></radialGradient>
<filter id="b1" x="-5%" y="-5%" width="110%" height="110%"><feGaussianBlur stdDeviation=".55"/></filter>
<filter id="b2" x="-20%" y="-50%" width="140%" height="200%"><feGaussianBlur stdDeviation="1.6"/></filter>
<filter id="b3" x="-20%" y="-20%" width="140%" height="140%"><feGaussianBlur stdDeviation="1"/></filter>
<filter id="rough" x="-10%" y="-10%" width="120%" height="120%"><feTurbulence type="fractalNoise" baseFrequency=".35" numOctaves="2" seed="3" result="n"/><feDisplacementMap in="SourceGraphic" in2="n" scale="3.2" xChannelSelector="R" yChannelSelector="G"/></filter>
</defs>
<g clip-path="url(#c1)"><g filter="url(#b1)">
<rect x="704.7" y="622.8" width="329.4" height="160.9" fill="url(#sky1)"/>
<rect x="704.7" y="622.8" width="329.4" height="70" fill="url(#hz1)"/>
<circle cx="706.7" cy="624.8" r="70" fill="url(#sun1)"/>
<ellipse cx="937.1" cy="632.0" rx="54.9" ry="5.3" fill="#fff" opacity=".85" filter="url(#b2)"/>
<ellipse cx="973.4" cy="633.3" rx="19.5" ry="3.9" fill="#fff" opacity=".7" filter="url(#b2)"/>
<ellipse cx="836.4" cy="646.6" rx="30.1" ry="2.8" fill="#fff" opacity=".8" filter="url(#b2)"/>
<ellipse cx="861.8" cy="645.7" rx="7.1" ry="2.5" fill="#fff" opacity=".7" filter="url(#b2)"/>
<ellipse cx="994.7" cy="659.9" rx="39.0" ry="1.8" fill="#fff" opacity=".45" filter="url(#b2)"/>
<ellipse cx="1001.7" cy="646.6" rx="28.3" ry="1.4" fill="#fff" opacity=".3" filter="url(#b2)"/>
<polygon points="813.4,685.9 824.0,683.4 838.2,682.4 852.4,681.3 859.5,679.9 865.7,679.0 872.7,681.1 880.0,682.4 880.0,690.9 813.4,690.9" fill="#5c9a78" />
<polygon points="860.0,679.9 867.1,679.4 872.4,681.1 879.5,683.1 891.9,682.0 904.3,682.5 914.9,682.0 954.8,682.4 966.3,683.1 984.0,682.0 994.7,682.4 1007.1,682.0 1019.5,683.1 1032.7,682.0 1032.7,690.9 860.0,690.9" fill="#467f60" />
<polygon points="768.2,686.4 880.0,688.2 880.0,721.0 768.2,712.1" fill="#b7bcc2" />
<polygon points="849.4,688.2 1032.7,688.2 1032.7,726.3 849.4,726.3" fill="#aeb4ba" />
<polygon points="913.3,690.5 922.4,690.5 922.4,692.1 913.3,692.1" fill="#dfe2e6" />
<polygon points="920.6,689.1 928.5,689.1 928.5,690.6 920.6,690.6" fill="#f2f3f5" />
<polygon points="929.8,691.8 938.1,691.8 938.1,693.4 929.8,693.4" fill="#dfe2e6" />
<polygon points="1022.6,697.7 1031.2,697.7 1031.2,699.3 1022.6,699.3" fill="#f2f3f5" />
<polygon points="865.2,691.5 873.5,691.5 873.5,693.4 865.2,693.4" fill="#f2f3f5" />
<polygon points="881.8,690.0 887.8,690.0 887.8,694.0 881.8,694.0" fill="#8a9097" />
<polygon points="874.5,696.8 879.5,696.8 879.5,698.5 874.5,698.5" fill="#dfe2e6" />
<polygon points="955.5,697.5 963.2,697.5 963.2,700.6 955.5,700.6" fill="#555b62" />
<polygon points="938.1,702.1 944.6,702.1 944.6,704.3 938.1,704.3" fill="#8a9097" />
<polygon points="979.1,691.9 987.5,691.9 987.5,695.0 979.1,695.0" fill="#555b62" />
<polygon points="984.4,692.6 996.6,692.6 996.6,694.3 984.4,694.3" fill="#f2f3f5" />
<polygon points="885.4,693.4 897.2,693.4 897.2,696.1 885.4,696.1" fill="#dfe2e6" />
<polygon points="990.6,696.8 1001.8,696.8 1001.8,699.3 990.6,699.3" fill="#555b62" />
<polygon points="960.7,696.9 968.1,696.9 968.1,701.0 960.7,701.0" fill="#c8ccd1" />
<polygon points="939.6,698.2 943.4,698.2 943.4,701.9 939.6,701.9" fill="#9aa0a6" />
<polygon points="906.4,694.0 915.7,694.0 915.7,695.5 906.4,695.5" fill="#9aa0a6" />
<polygon points="918.8,697.4 926.5,697.4 926.5,699.5 918.8,699.5" fill="#c8ccd1" />
<polygon points="879.1,691.9 885.9,691.9 885.9,696.1 879.1,696.1" fill="#dfe2e6" />
<polygon points="885.6,694.3 891.4,694.3 891.4,696.1 885.6,696.1" fill="#f2f3f5" />
<polygon points="1008.0,692.4 1015.0,692.4 1015.0,695.0 1008.0,695.0" fill="#f2f3f5" />
<polygon points="1024.4,690.5 1029.3,690.5 1029.3,692.6 1024.4,692.6" fill="#6f757c" />
<polygon points="858.6,700.7 863.4,700.7 863.4,703.0 858.6,703.0" fill="#8a9097" />
<polygon points="929.9,693.8 938.3,693.8 938.3,698.2 929.9,698.2" fill="#e9ebee" />
<polygon points="936.6,701.3 948.5,701.3 948.5,704.9 936.6,704.9" fill="#f2f3f5" />
<polygon points="926.3,694.1 933.9,694.1 933.9,696.8 926.3,696.8" fill="#6f757c" />
<polygon points="868.3,691.4 873.0,691.4 873.0,693.9 868.3,693.9" fill="#e9ebee" />
<polygon points="874.4,696.7 882.5,696.7 882.5,701.2 874.4,701.2" fill="#e9ebee" />
<polygon points="868.8,691.3 875.4,691.3 875.4,694.8 868.8,694.8" fill="#555b62" />
<polygon points="962.1,695.4 966.4,695.4 966.4,698.3 962.1,698.3" fill="#9aa0a6" />
<polygon points="940.7,692.9 945.2,692.9 945.2,696.7 940.7,696.7" fill="#c8ccd1" />
<polygon points="940.4,698.6 948.4,698.6 948.4,700.7 940.4,700.7" fill="#555b62" />
<polygon points="882.2,696.4 885.6,696.4 885.6,699.5 882.2,699.5" fill="#dfe2e6" />
<polygon points="978.6,692.1 985.1,692.1 985.1,694.1 978.6,694.1" fill="#6f757c" />
<polygon points="949.9,699.9 956.1,699.9 956.1,702.1 949.9,702.1" fill="#6f757c" />
<polygon points="997.8,700.5 1007.9,700.5 1007.9,702.7 997.8,702.7" fill="#9aa0a6" />
<polygon points="918.8,688.7 922.3,688.7 922.3,691.0 918.8,691.0" fill="#c8ccd1" />
<polygon points="890.4,697.3 896.8,697.3 896.8,701.3 890.4,701.3" fill="#555b62" />
<polygon points="1024.0,693.7 1029.2,693.7 1029.2,695.8 1024.0,695.8" fill="#6f757c" />
<polygon points="915.7,695.5 928.0,695.5 928.0,698.8 915.7,698.8" fill="#e9ebee" />
<polygon points="940.6,698.0 951.1,698.0 951.1,699.7 940.6,699.7" fill="#dfe2e6" />
<polygon points="1016.0,700.0 1026.1,700.0 1026.1,702.9 1016.0,702.9" fill="#8a9097" />
<polygon points="932.6,697.8 936.6,697.8 936.6,702.2 932.6,702.2" fill="#f2f3f5" />
<polygon points="937.7,699.4 941.7,699.4 941.7,701.3 937.7,701.3" fill="#8a9097" />
<polygon points="861.3,697.1 868.8,697.1 868.8,700.6 861.3,700.6" fill="#9aa0a6" />
<polygon points="971.7,693.5 980.0,693.5 980.0,695.3 971.7,695.3" fill="#e9ebee" />
<polygon points="996.7,699.2 1000.8,699.2 1000.8,703.0 996.7,703.0" fill="#8a9097" />
<polygon points="932.5,701.3 943.4,701.3 943.4,703.4 932.5,703.4" fill="#c8ccd1" />
<polygon points="893.8,695.8 904.0,695.8 904.0,698.2 893.8,698.2" fill="#f2f3f5" />
<polygon points="1002.8,689.1 1012.8,689.1 1012.8,693.4 1002.8,693.4" fill="#f2f3f5" />
<polygon points="1001.5,701.4 1005.9,701.4 1005.9,703.3 1001.5,703.3" fill="#e9ebee" />
<polygon points="1009.6,699.9 1018.3,699.9 1018.3,703.8 1009.6,703.8" fill="#8a9097" />
<polygon points="886.7,695.3 896.6,695.3 896.6,698.5 886.7,698.5" fill="#555b62" />
<polygon points="976.1,696.2 983.8,696.2 983.8,700.1 976.1,700.1" fill="#e9ebee" />
<polygon points="900.0,692.4 910.3,692.4 910.3,695.4 900.0,695.4" fill="#e9ebee" />
<polygon points="989.8,702.0 997.0,702.0 997.0,705.3 989.8,705.3" fill="#6f757c" />
<polygon points="978.0,695.0 986.1,695.0 986.1,698.0 978.0,698.0" fill="#6f757c" />
<polygon points="979.1,701.4 991.0,701.4 991.0,703.7 979.1,703.7" fill="#6f757c" />
<polygon points="1003.8,690.3 1008.1,690.3 1008.1,693.1 1003.8,693.1" fill="#dfe2e6" />
<polygon points="974.2,694.7 979.3,694.7 979.3,697.0 974.2,697.0" fill="#dfe2e6" />
<polygon points="1013.8,690.5 1023.6,690.5 1023.6,694.1 1013.8,694.1" fill="#8a9097" />
<polygon points="900.9,690.3 908.4,690.3 908.4,694.1 900.9,694.1" fill="#dfe2e6" />
<polygon points="926.3,695.6 938.6,695.6 938.6,699.6 926.3,699.6" fill="#8a9097" />
<polygon points="980.4,703.2 987.3,703.2 987.3,705.9 980.4,705.9" fill="#555b62" />
<polygon points="912.3,699.1 915.7,699.1 915.7,702.3 912.3,702.3" fill="#9aa0a6" />
<polygon points="979.8,694.0 987.8,694.0 987.8,696.4 979.8,696.4" fill="#dfe2e6" />
<polygon points="876.3,702.0 881.5,702.0 881.5,706.3 876.3,706.3" fill="#dfe2e6" />
<polygon points="903.0,688.8 913.4,688.8 913.4,691.1 903.0,691.1" fill="#8a9097" />
<polygon points="1000.3,701.0 1009.7,701.0 1009.7,705.4 1000.3,705.4" fill="#f2f3f5" />
<polygon points="882.7,702.1 891.1,702.1 891.1,705.7 882.7,705.7" fill="#dfe2e6" />
<polygon points="905.4,700.3 910.3,700.3 910.3,704.5 905.4,704.5" fill="#c8ccd1" />
<polygon points="870.5,696.9 879.7,696.9 879.7,698.6 870.5,698.6" fill="#80868e" />
<polygon points="793.1,690.5 797.2,690.5 797.2,691.9 793.1,691.9" fill="#f2f3f5" />
<polygon points="814.3,701.8 822.1,701.8 822.1,703.3 814.3,703.3" fill="#b4bac0" />
<polygon points="794.9,687.8 799.3,687.8 799.3,689.4 794.9,689.4" fill="#dfe2e6" />
<polygon points="869.9,696.8 877.0,696.8 877.0,698.8 869.9,698.8" fill="#c8ccd1" />
<polygon points="823.1,689.0 828.9,689.0 828.9,690.5 823.1,690.5" fill="#a3a9b0" />
<polygon points="773.1,686.2 780.0,686.2 780.0,690.1 773.1,690.1" fill="#f2f3f5" />
<polygon points="820.4,702.1 824.4,702.1 824.4,705.6 820.4,705.6" fill="#c8ccd1" />
<polygon points="840.1,695.4 849.9,695.4 849.9,699.2 840.1,699.2" fill="#a3a9b0" />
<polygon points="843.4,703.0 849.2,703.0 849.2,706.5 843.4,706.5" fill="#b4bac0" />
<polygon points="847.9,688.3 858.4,688.3 858.4,692.2 847.9,692.2" fill="#80868e" />
<polygon points="783.1,687.1 791.8,687.1 791.8,689.2 783.1,689.2" fill="#dfe2e6" />
<polygon points="775.1,697.5 781.1,697.5 781.1,700.1 775.1,700.1" fill="#a3a9b0" />
<polygon points="833.8,697.9 837.3,697.9 837.3,699.8 833.8,699.8" fill="#a3a9b0" />
<polygon points="817.3,690.5 827.6,690.5 827.6,694.3 817.3,694.3" fill="#f2f3f5" />
<polygon points="804.1,686.5 813.8,686.5 813.8,688.5 804.1,688.5" fill="#dfe2e6" />
<polygon points="769.2,692.5 775.9,692.5 775.9,695.2 769.2,695.2" fill="#dfe2e6" />
<polygon points="795.9,699.4 799.8,699.4 799.8,702.8 795.9,702.8" fill="#dfe2e6" />
<polygon points="812.3,686.6 815.6,686.6 815.6,688.8 812.3,688.8" fill="#dfe2e6" />
<polygon points="778.2,702.5 787.8,702.5 787.8,704.3 778.2,704.3" fill="#b4bac0" />
<polygon points="853.8,696.3 862.7,696.3 862.7,699.5 853.8,699.5" fill="#c8ccd1" />
<polygon points="785.3,698.5 793.2,698.5 793.2,700.0 785.3,700.0" fill="#80868e" />
<polygon points="846.4,694.8 852.8,694.8 852.8,698.0 846.4,698.0" fill="#f2f3f5" />
<polygon points="784.2,695.0 791.1,695.0 791.1,698.5 784.2,698.5" fill="#80868e" />
<polygon points="770.8,697.8 780.0,697.8 780.0,701.0 770.8,701.0" fill="#b4bac0" />
<polygon points="838.6,687.4 842.1,687.4 842.1,690.4 838.6,690.4" fill="#e9ebee" />
<polygon points="789.5,680.2 808.1,679.5 808.1,688.2 789.5,688.2" fill="#7b828b" />
<polygon points="792.1,681.7 799.2,681.3 799.2,687.3 792.1,687.3" fill="#d9dde2" />
<polygon points="785.0,682.4 790.0,682.4 790.0,689.5 785.0,689.5" fill="#e6e8ec" />
<polygon points="861.2,683.8 868.0,683.8 868.0,688.7 861.2,688.7" fill="#eef0f3" />
<polygon points="855.0,694.4 880.0,694.1 880.0,708.6 855.0,708.2" fill="#e4e6ea" />
<polygon points="855.0,698.8 880.0,698.7 880.0,699.7 855.0,699.9" fill="#9ea4ab" />
<polygon points="855.0,702.9 880.0,702.7 880.0,703.8 855.0,704.0" fill="#9ea4ab" />
<polygon points="855.9,688.7 880.0,688.4 880.0,694.4 855.9,694.4" fill="#8c929a" />
<polygon points="706.7,657.7 762.4,656.9 768.2,659.3 768.2,702.9 706.7,704.0" fill="#d4d7db" />
<polygon points="706.7,661.1 762.4,660.9 762.4,662.7 706.7,662.9" fill="#aab0b8" />
<polygon points="762.4,660.9 768.2,662.2 768.2,663.6 762.4,662.7" fill="#979da6" />
<polygon points="706.7,664.9 762.4,664.7 762.4,666.5 706.7,666.7" fill="#aab0b8" />
<polygon points="762.4,664.7 768.2,666.0 768.2,667.4 762.4,666.5" fill="#979da6" />
<polygon points="706.7,668.7 762.4,668.5 762.4,670.3 706.7,670.5" fill="#aab0b8" />
<polygon points="762.4,668.5 768.2,669.8 768.2,671.2 762.4,670.3" fill="#979da6" />
<polygon points="706.7,672.5 762.4,672.4 762.4,674.1 706.7,674.3" fill="#aab0b8" />
<polygon points="762.4,672.4 768.2,673.6 768.2,675.0 762.4,674.1" fill="#979da6" />
<polygon points="706.7,676.3 762.4,676.2 762.4,677.9 706.7,678.1" fill="#aab0b8" />
<polygon points="762.4,676.2 768.2,677.4 768.2,678.8 762.4,677.9" fill="#979da6" />
<polygon points="706.7,680.2 762.4,680.0 762.4,681.7 706.7,681.9" fill="#aab0b8" />
<polygon points="762.4,680.0 768.2,681.2 768.2,682.6 762.4,681.7" fill="#979da6" />
<polygon points="706.7,684.0 762.4,683.8 762.4,685.6 706.7,685.7" fill="#aab0b8" />
<polygon points="762.4,683.8 768.2,685.0 768.2,686.4 762.4,685.6" fill="#979da6" />
<polygon points="706.7,687.8 762.4,687.6 762.4,689.4 706.7,689.5" fill="#aab0b8" />
<polygon points="762.4,687.6 768.2,688.8 768.2,690.3 762.4,689.4" fill="#979da6" />
<polygon points="706.7,691.6 762.4,691.4 762.4,693.2 706.7,693.4" fill="#aab0b8" />
<polygon points="762.4,691.4 768.2,692.6 768.2,694.1 762.4,693.2" fill="#979da6" />
<polygon points="706.7,695.4 762.4,695.2 762.4,697.0 706.7,697.2" fill="#aab0b8" />
<polygon points="762.4,695.2 768.2,696.5 768.2,697.9 762.4,697.0" fill="#979da6" />
<polygon points="706.7,699.2 762.4,699.0 762.4,700.8 706.7,701.0" fill="#aab0b8" />
<polygon points="762.4,699.0 768.2,700.3 768.2,701.7 762.4,700.8" fill="#979da6" />
<polygon points="717.7,657.7 719.5,657.7 719.5,703.3 717.7,703.3" fill="#e8eaed" />
<polygon points="761.1,656.9 762.7,656.9 762.7,702.9 761.1,702.9" fill="#eceef0" />
<polygon points="706.7,657.7 768.2,656.9 768.2,703.3 706.7,704.0" fill="#fff" opacity=".28"/>
<polygon points="768.2,694.4 832.0,690.0 832.0,695.3 768.2,700.6" fill="#d5d9dd" />
<polygon points="706.7,706.5 832.0,694.4 832.5,698.0 706.7,714.3" fill="#e2e5e8" />
<polygon points="706.7,701.9 768.2,697.6 768.2,700.1 706.7,706.8" fill="#b9bec4" />
<polygon points="706.7,714.3 832.5,698.0 833.2,702.9 706.7,727.4" fill="#46423d" />
<polygon points="706.7,719.2 806.3,703.3 806.3,704.0 706.7,720.3" fill="#8a8a86" />
<polygon points="706.7,727.4 833.2,702.9 833.9,708.2 706.7,738.4" fill="#8f99a6" />
<polygon points="706.7,738.4 799.2,719.2 813.4,712.1 824.0,708.2 833.9,708.2 833.2,713.6 816.9,717.8 799.2,723.6 762.0,734.3 706.7,748.3" fill="#e3e9f1" />
<polygon points="799.2,715.7 813.4,708.6 824.0,706.8 831.1,708.6 816.9,716.6 799.2,724.5" fill="#9fb9dd" />
<polygon points="706.7,748.3 762.0,734.3 799.2,723.6 799.2,730.7 753.2,744.9 706.7,760.3" fill="#6f8fc4" />
<polygon points="770.9,721.0 779.7,719.2 779.7,724.5 770.9,726.3" fill="#3f4a5c" />
<polygon points="706.7,740.5 723.0,737.3 723.0,744.9 706.7,747.9" fill="#5f88c9" />
<polygon points="709.2,740.8 714.2,740.0 714.2,744.7 709.2,745.6" fill="#35b08a" />
<polygon points="706.7,760.3 753.2,744.9 753.2,750.2 706.7,766.2" fill="#dfe5ee" />
<polygon points="706.7,766.2 753.2,750.2 753.2,756.4 706.7,773.8" fill="#4f72b2" />
<polygon points="723.0,760.3 728.3,758.7 728.3,764.4 723.0,766.4" fill="#eef1f5" />
<polygon points="747.0,752.0 751.4,750.8 751.4,756.4 747.0,757.8" fill="#eef1f5" />
<polygon points="706.7,773.4 753.2,754.7 774.4,750.2 799.2,750.2 796.6,761.7 806.3,775.9 838.2,781.8 706.7,781.8" fill="#caa99b" />
<polygon points="731.0,781.8 774.4,751.5 776.5,751.5 735.4,781.8" fill="#a7877a" />
<polygon points="778.0,781.8 796.6,761.7 798.5,762.8 782.4,781.8" fill="#a7877a" />
<polygon points="753.2,751.5 799.2,750.4 799.2,753.2 753.2,754.3" fill="#b59a8e" />
<polygon points="801.9,744.0 824.9,726.0 824.9,734.3 801.9,752.5" fill="#59616b" />
<polygon points="753.2,739.8 774.4,739.1 799.2,742.3 824.0,723.6 827.9,725.6 802.8,746.2 774.4,742.6 753.2,743.5" fill="#eceff2" />
<polygon points="757.1,743.1 758.5,743.1 758.5,752.0 757.1,752.0" fill="#f3f4f6" />
<polygon points="773.0,742.6 774.4,742.6 774.4,752.0 773.0,752.0" fill="#f3f4f6" />
<polygon points="789.5,744.9 790.9,745.1 790.9,752.5 789.5,752.5" fill="#f3f4f6" />
<polygon points="760.2,743.7 773.0,743.0 773.0,750.2 760.2,751.1" fill="#7f8792" />
<polygon points="799.2,757.3 824.0,732.0 832.0,728.1 841.7,728.4 847.1,730.7 836.4,744.0 832.0,760.0 840.9,775.9 836.4,781.8 813.4,777.7 806.3,774.5 796.6,761.7" fill="#535960" />
<polygon points="801.9,756.8 824.9,732.0 831.5,730.2 810.7,760.9" fill="#8b6a64" />
<polygon points="795.7,761.7 806.0,756.8 812.0,761.7 806.3,774.5" fill="#b4b8bc" />
<polygon points="797.1,762.8 808.4,758.2 808.8,759.1 797.4,763.7" fill="#e8eaec" />
<polygon points="797.6,765.1 809.1,761.0 809.5,761.9 798.0,766.0" fill="#e8eaec" />
<polygon points="798.2,767.4 809.9,763.9 810.2,764.8 798.5,768.3" fill="#e8eaec" />
<polygon points="798.7,769.7 810.6,766.7 810.9,767.6 799.0,770.6" fill="#e8eaec" />
<polygon points="799.2,772.0 811.3,769.5 811.6,770.4 799.6,772.9" fill="#e8eaec" />
<rect x="810.7" y="767.4" width="15.5" height="7" rx="2.2" fill="#f4f4f4"/>
<polygon points="813.4,768.1 824.0,768.1 824.7,770.6 812.7,770.6" fill="#8a9098" />
<polygon points="829.3,728.1 834.7,727.7 834.7,731.3 829.3,731.6" fill="#e8e8e8" />
<polygon points="833.2,751.1 847.4,732.0 851.0,733.4 843.9,751.1 840.0,756.8 836.1,757.3" fill="#7db24c" />
<polygon points="856.8,731.3 880.0,729.5 880.0,749.3 870.1,747.9 864.8,742.3" fill="#7db24c" />
<polygon points="852.4,733.4 856.3,731.3 866.5,744.0 859.5,744.0" fill="#c4a79c" />
<ellipse cx="796.6" cy="735.2" rx="3.2" ry="2.9" fill="#7da354" />
<ellipse cx="801.9" cy="732.0" rx="2.8" ry="2.6" fill="#7da354" />
<ellipse cx="808.4" cy="726.3" rx="3.0" ry="2.7" fill="#7da354" />
<ellipse cx="830.2" cy="716.6" rx="2.8" ry="2.6" fill="#7da354" />
<ellipse cx="836.8" cy="713.6" rx="2.3" ry="2.1" fill="#7da354" />
<ellipse cx="852.4" cy="700.6" rx="2.5" ry="2.2" fill="#7da354" />
<polygon points="844.4,709.5 877.2,708.6 877.2,712.1 844.4,712.8" fill="#d9dcdf" />
<polygon points="844.4,712.8 877.2,712.1 877.2,719.6 844.4,719.6" fill="#5d5a55" />
<polygon points="840.0,719.6 880.0,719.2 880.0,721.9 840.0,722.2" fill="#e2e4e6" />
<polygon points="824.0,721.9 880.0,721.9 880.0,728.4 832.0,728.1" fill="#b9a79c" />
<polygon points="860.0,688.2 881.6,688.2 881.6,696.5 860.0,696.5" fill="#878d94" />
<polygon points="860.0,690.0 881.6,690.0 881.6,690.9 860.0,690.9" fill="#5e646b" />
<polygon points="860.0,693.0 881.6,693.0 881.6,693.9 860.0,693.9" fill="#5e646b" />
<polygon points="861.4,683.8 868.0,683.8 868.0,688.4 861.4,688.4" fill="#f1f2f4" />
<polygon points="860.0,696.5 879.5,696.2 879.5,708.6 860.0,708.6" fill="#e9ebee" />
<polygon points="860.0,700.1 879.5,699.9 879.5,700.8 860.0,701.0" fill="#a4aab1" />
<polygon points="860.0,704.0 879.5,703.8 879.5,704.7 860.0,704.9" fill="#a4aab1" />
<polygon points="886.6,701.9 903.9,701.5 903.9,709.5 886.6,709.5" fill="#4c4843" />
<polygon points="860.0,709.5 876.3,709.5 876.3,719.6 860.0,719.6" fill="#6b675f" />
<polygon points="876.8,709.5 912.4,708.6 913.2,716.6 876.8,717.1" fill="#ebebeb" />
<polygon points="876.8,716.7 913.2,716.4 913.2,721.3 876.8,721.3" fill="#5a5650" />
<polygon points="860.0,719.6 916.7,720.6 916.7,728.4 860.0,728.4" fill="#c2b4aa" />
<polygon points="859.1,721.9 1032.7,721.9 1032.7,782.1 859.1,782.1" fill="#cbc6c0" />
<polygon points="860.0,719.6 916.7,720.6 916.7,726.3 860.0,726.3" fill="#b8aaa0" />
<polygon points="917.1,723.6 1032.7,723.6 1032.7,742.3 973.4,744.0 936.2,744.9" fill="#a8b4be" />
<polygon points="930.9,726.3 987.6,726.3 991.1,736.9 934.4,738.4" fill="#bac5ce" />
<polygon points="1005.3,733.4 1032.7,733.4 1032.7,744.9 1007.1,746.7" fill="#d9d3cc" />
<polygon points="920.6,725.6 929.1,726.7 929.1,733.4 921.3,731.6" fill="#f0f1f2" />
<polygon points="921.3,728.4 929.1,729.5 929.1,731.3 921.3,730.2" fill="#6a7078" />
<polygon points="859.1,729.9 871.0,729.9 873.8,744.0 859.1,747.9" fill="#79ae49" />
<polygon points="870.6,744.0 890.5,750.4 890.5,756.8 867.1,752.0" fill="#8dbb5a" />
<polygon points="878.4,714.3 874.2,750.2 883.4,750.2" fill="#6c727a" />
<polygon points="878.4,714.3 878.4,750.2 883.4,750.2" fill="#565c64" />
<polygon points="882.7,729.0 894.0,728.4 913.2,746.7 930.9,752.0 930.9,760.9 910.5,755.5 895.1,752.5" fill="#4b5159" />
<polygon points="875.9,756.8 890.1,756.8 890.1,768.8 875.9,768.8" fill="#d8d8d6" />
<polygon points="888.3,734.3 894.0,735.0 894.0,738.2 888.3,737.5" fill="#2f3338" />
<polygon points="899.3,731.6 905.0,732.3 905.0,735.5 899.3,734.8" fill="#e6e6e6" />
<polygon points="903.4,737.8 909.1,738.5 909.1,741.7 903.4,741.0" fill="#e6e6e6" />
<polygon points="954.8,688.4 1032.7,688.4 1032.7,703.3 954.8,703.3" fill="#7f868d" />
<polygon points="983.0,694.5 985.8,694.5 985.8,695.6 983.0,695.6" fill="#cfd3d7" />
<polygon points="1005.1,695.0 1007.6,695.0 1007.6,697.7 1005.1,697.7" fill="#cfd3d7" />
<polygon points="1020.9,689.9 1026.7,689.9 1026.7,692.6 1020.9,692.6" fill="#41464d" />
<polygon points="974.0,689.7 978.2,689.7 978.2,692.3 974.0,692.3" fill="#5a6068" />
<polygon points="972.4,697.0 977.9,697.0 977.9,699.9 972.4,699.9" fill="#e3e5e8" />
<polygon points="990.5,697.5 997.8,697.5 997.8,699.8 990.5,699.8" fill="#5a6068" />
<polygon points="961.3,690.6 965.4,690.6 965.4,693.3 961.3,693.3" fill="#b8bcc2" />
<polygon points="1000.8,690.4 1006.4,690.4 1006.4,692.5 1000.8,692.5" fill="#e3e5e8" />
<polygon points="1006.0,697.4 1010.3,697.4 1010.3,699.5 1006.0,699.5" fill="#41464d" />
<polygon points="989.5,698.5 998.3,698.5 998.3,700.8 989.5,700.8" fill="#b8bcc2" />
<polygon points="1026.7,700.7 1029.3,700.7 1029.3,702.7 1026.7,702.7" fill="#cfd3d7" />
<polygon points="1026.0,694.5 1030.2,694.5 1030.2,696.0 1026.0,696.0" fill="#5a6068" />
<polygon points="961.1,689.9 968.3,689.9 968.3,691.5 961.1,691.5" fill="#b8bcc2" />
<polygon points="965.3,699.2 971.0,699.2 971.0,702.2 965.3,702.2" fill="#b8bcc2" />
<polygon points="972.5,700.2 978.1,700.2 978.1,701.3 972.5,701.3" fill="#e3e5e8" />
<polygon points="1024.7,697.4 1029.8,697.4 1029.8,700.0 1024.7,700.0" fill="#41464d" />
<polygon points="980.7,692.8 988.5,692.8 988.5,693.8 980.7,693.8" fill="#b8bcc2" />
<polygon points="1016.6,690.3 1025.0,690.3 1025.0,692.9 1016.6,692.9" fill="#b8bcc2" />
<polygon points="974.1,689.6 979.0,689.6 979.0,692.5 974.1,692.5" fill="#e3e5e8" />
<polygon points="981.9,694.2 986.1,694.2 986.1,695.4 981.9,695.4" fill="#e3e5e8" />
<polygon points="959.4,697.2 966.0,697.2 966.0,698.6 959.4,698.6" fill="#b8bcc2" />
<polygon points="987.4,692.8 994.8,692.8 994.8,695.5 987.4,695.5" fill="#41464d" />
<polygon points="954.8,703.3 984.9,703.3 984.9,719.6 954.8,719.6" fill="#3f4349" />
<polygon points="959.2,704.7 973.4,704.7 973.4,708.6 959.2,708.6" fill="#5c5650" />
<polygon points="992.0,694.4 1012.0,694.4 1012.0,715.7 992.0,715.7" fill="#e7e9ed" />
<polygon points="982.3,694.1 992.0,694.1 992.0,703.3 982.3,703.3" fill="#b4b9bf" />
<polygon points="984.9,704.3 1001.7,704.3 1001.7,721.7 984.9,721.7" fill="#cdd0d4" />
<polygon points="986.2,706.8 1000.9,706.8 1000.9,708.6 986.2,708.6" fill="#5b6068" />
<polygon points="986.2,710.4 1000.9,710.4 1000.9,712.1 986.2,712.1" fill="#5b6068" />
<polygon points="986.2,713.9 1000.9,713.9 1000.9,715.7 986.2,715.7" fill="#5b6068" />
<polygon points="986.2,717.4 1000.9,717.4 1000.9,719.2 986.2,719.2" fill="#5b6068" />
<polygon points="969.9,705.0 984.9,705.0 984.9,719.6 969.9,719.6" fill="#35383d" />
<polygon points="1012.0,699.4 1032.7,699.4 1032.7,734.8 1012.0,724.9" fill="#3c4d7e" />
<polygon points="1012.0,699.4 1032.7,699.4 1032.7,708.6 1012.0,708.2" fill="#b7c2d4" />
<polygon points="1015.0,709.5 1031.0,709.5 1031.0,717.4 1015.0,716.6" fill="#7f93c0" />
<polygon points="1012.0,719.2 1032.7,721.9 1032.7,734.8 1012.0,724.9" fill="#2d3a63" />
<polygon points="912.3,657.9 928.4,648.0 928.4,720.3 913.2,712.5" fill="#9099a3" />
<polygon points="912.3,661.1 928.4,652.2 928.4,653.5 912.3,662.2" fill="#dfe3e7" />
<polygon points="912.3,664.4 928.4,656.4 928.4,657.6 912.3,665.4" fill="#dfe3e7" />
<polygon points="912.3,667.7 928.4,660.5 928.4,661.7 912.3,668.7" fill="#dfe3e7" />
<polygon points="912.3,670.9 928.4,664.6 928.4,665.9 912.3,672.0" fill="#dfe3e7" />
<polygon points="912.3,674.2 928.4,668.8 928.4,670.0 912.3,675.3" fill="#dfe3e7" />
<polygon points="912.3,677.5 928.4,672.9 928.4,674.1 912.3,678.6" fill="#dfe3e7" />
<polygon points="912.3,680.8 928.4,677.0 928.4,678.3 912.3,681.8" fill="#dfe3e7" />
<polygon points="912.3,684.1 928.4,681.1 928.4,682.4 912.3,685.1" fill="#dfe3e7" />
<polygon points="912.3,687.3 928.4,685.3 928.4,686.5 912.3,688.4" fill="#dfe3e7" />
<polygon points="912.3,690.6 928.4,689.4 928.4,690.6 912.3,691.7" fill="#dfe3e7" />
<polygon points="912.3,693.9 928.4,693.5 928.4,694.8 912.3,694.9" fill="#dfe3e7" />
<polygon points="912.3,697.2 928.4,697.7 928.4,698.9 912.3,698.2" fill="#dfe3e7" />
<polygon points="912.3,700.4 928.4,701.8 928.4,703.0 912.3,701.5" fill="#dfe3e7" />
<polygon points="912.3,703.7 928.4,705.9 928.4,707.2 912.3,704.8" fill="#dfe3e7" />
<polygon points="912.3,707.0 928.4,710.0 928.4,711.3 912.3,708.1" fill="#dfe3e7" />
<polygon points="912.3,710.3 928.4,714.2 928.4,715.4 912.3,711.3" fill="#dfe3e7" />
<polygon points="928.4,647.6 953.9,647.6 953.9,720.3 928.4,720.3" fill="#e6e8ec" />
<polygon points="933.5,649.8 948.6,649.8 948.6,651.7 933.5,651.7" fill="#8c939b" />
<polygon points="933.5,653.9 948.6,653.9 948.6,655.8 933.5,655.8" fill="#8c939b" />
<polygon points="933.5,658.0 948.6,658.0 948.6,660.0 933.5,660.0" fill="#8c939b" />
<polygon points="933.5,662.2 948.6,662.2 948.6,664.1 933.5,664.1" fill="#8c939b" />
<polygon points="933.5,666.3 948.6,666.3 948.6,668.2 933.5,668.2" fill="#8c939b" />
<polygon points="933.5,670.4 948.6,670.4 948.6,672.4 933.5,672.4" fill="#8c939b" />
<polygon points="933.5,674.5 948.6,674.5 948.6,676.5 933.5,676.5" fill="#8c939b" />
<polygon points="933.5,678.7 948.6,678.7 948.6,680.6 933.5,680.6" fill="#8c939b" />
<polygon points="933.5,682.8 948.6,682.8 948.6,684.7 933.5,684.7" fill="#8c939b" />
<polygon points="933.5,686.9 948.6,686.9 948.6,688.9 933.5,688.9" fill="#8c939b" />
<polygon points="933.5,691.0 948.6,691.0 948.6,693.0 933.5,693.0" fill="#8c939b" />
<polygon points="933.5,695.2 948.6,695.2 948.6,697.1 933.5,697.1" fill="#8c939b" />
<polygon points="933.5,699.3 948.6,699.3 948.6,701.3 933.5,701.3" fill="#8c939b" />
<polygon points="933.5,703.4 948.6,703.4 948.6,705.4 933.5,705.4" fill="#8c939b" />
<polygon points="933.5,707.6 948.6,707.6 948.6,709.5 933.5,709.5" fill="#8c939b" />
<polygon points="933.5,711.7 948.6,711.7 948.6,713.6 933.5,713.6" fill="#8c939b" />
<polygon points="950.7,648.3 952.1,648.3 952.1,716.6 950.7,716.6" fill="#c9cdd2" />
<polygon points="926.4,715.7 953.9,715.7 953.9,720.6 926.4,720.6" fill="#555b63" />
<polygon points="913.2,708.6 928.4,715.7 928.4,720.6 913.2,712.8" fill="#4a4f56" />
<polygon points="859.1,761.7 1032.7,761.7 1032.7,771.0 859.1,771.0" fill="#9fb07e" />
<polygon points="930.9,752.0 1032.7,747.6 1032.7,761.7 930.9,761.7" fill="#c9c8bf" />
<polygon points="859.1,770.2 1032.7,768.8 1032.7,782.1 859.1,782.1" fill="#424850" />
<polygon points="859.1,778.2 1032.7,778.2 1032.7,782.1 859.1,782.1" fill="#7d7f80" />
<ellipse cx="890.1" cy="774.5" rx="10.6" ry="3.9" fill="#24272c" />
<ellipse cx="889.4" cy="772.7" rx="7.1" ry="1.8" fill="#596069" />
<ellipse cx="938.8" cy="774.5" rx="13.3" ry="3.9" fill="#24272c" />
<ellipse cx="938.1" cy="772.7" rx="8.9" ry="1.8" fill="#596069" />
<ellipse cx="971.6" cy="774.5" rx="12.4" ry="3.9" fill="#24272c" />
<ellipse cx="970.9" cy="772.7" rx="8.3" ry="1.8" fill="#596069" />
<ellipse cx="1018.6" cy="774.5" rx="13.3" ry="3.9" fill="#24272c" />
<ellipse cx="1017.9" cy="772.7" rx="8.9" ry="1.8" fill="#596069" />
<g filter="url(#rough)">
<ellipse cx="966.0" cy="747.1" rx="9.7" ry="2.4" fill="#2c3036" opacity=".5"/>
<ellipse cx="964.5" cy="738.3" rx="9.7" ry="7.8" fill="#3a7a2a" />
<ellipse cx="962.6" cy="736.7" rx="7.6" ry="5.8" fill="#57a23a" />
<ellipse cx="961.6" cy="734.9" rx="4.4" ry="3.1" fill="#84cc5c" opacity=".9"/>
<ellipse cx="968.4" cy="736.4" rx="3.7" ry="2.9" fill="#6ab445" />
<ellipse cx="967.0" cy="741.2" rx="4.9" ry="2.9" fill="#2f6a24" opacity=".7"/>
<ellipse cx="1001.8" cy="747.1" rx="9.7" ry="2.4" fill="#2c3036" opacity=".5"/>
<ellipse cx="1000.3" cy="738.3" rx="9.7" ry="7.8" fill="#3a7a2a" />
<ellipse cx="998.4" cy="736.7" rx="7.6" ry="5.8" fill="#57a23a" />
<ellipse cx="997.4" cy="734.9" rx="4.4" ry="3.1" fill="#84cc5c" opacity=".9"/>
<ellipse cx="1004.2" cy="736.4" rx="3.7" ry="2.9" fill="#6ab445" />
<ellipse cx="1002.8" cy="741.2" rx="4.9" ry="2.9" fill="#2f6a24" opacity=".7"/>
<ellipse cx="887.2" cy="727.4" rx="3.9" ry="1.0" fill="#2c3036" opacity=".5"/>
<ellipse cx="886.6" cy="723.8" rx="3.9" ry="3.1" fill="#3a7a2a" />
<ellipse cx="885.8" cy="723.2" rx="3.0" ry="2.3" fill="#57a23a" />
<ellipse cx="885.4" cy="722.5" rx="1.8" ry="1.2" fill="#84cc5c" opacity=".9"/>
<ellipse cx="888.1" cy="723.1" rx="1.5" ry="1.2" fill="#6ab445" />
<ellipse cx="887.6" cy="725.0" rx="1.9" ry="1.2" fill="#2f6a24" opacity=".7"/>
<ellipse cx="903.1" cy="721.7" rx="3.5" ry="0.9" fill="#2c3036" opacity=".5"/>
<ellipse cx="902.5" cy="718.5" rx="3.5" ry="2.8" fill="#3a7a2a" />
<ellipse cx="901.8" cy="717.9" rx="2.8" ry="2.1" fill="#57a23a" />
<ellipse cx="901.5" cy="717.3" rx="1.6" ry="1.1" fill="#84cc5c" opacity=".9"/>
<ellipse cx="903.9" cy="717.8" rx="1.3" ry="1.1" fill="#6ab445" />
<ellipse cx="903.4" cy="719.6" rx="1.8" ry="1.1" fill="#2f6a24" opacity=".7"/>
<ellipse cx="909.5" cy="735.8" rx="5.3" ry="1.3" fill="#2c3036" opacity=".5"/>
<ellipse cx="908.7" cy="731.0" rx="5.3" ry="4.3" fill="#3a7a2a" />
<ellipse cx="907.7" cy="730.1" rx="4.1" ry="3.2" fill="#57a23a" />
<ellipse cx="907.1" cy="729.1" rx="2.4" ry="1.7" fill="#84cc5c" opacity=".9"/>
<ellipse cx="910.9" cy="729.9" rx="2.0" ry="1.6" fill="#6ab445" />
<ellipse cx="910.1" cy="732.6" rx="2.7" ry="1.6" fill="#2f6a24" opacity=".7"/>
<ellipse cx="868.7" cy="770.8" rx="11.0" ry="2.7" fill="#2c3036" opacity=".5"/>
<ellipse cx="867.1" cy="760.9" rx="11.0" ry="8.8" fill="#3a7a2a" />
<ellipse cx="864.9" cy="759.0" rx="8.6" ry="6.6" fill="#57a23a" />
<ellipse cx="863.8" cy="757.0" rx="4.9" ry="3.5" fill="#84cc5c" opacity=".9"/>
<ellipse cx="871.5" cy="758.7" rx="4.2" ry="3.3" fill="#6ab445" />
<ellipse cx="869.8" cy="764.2" rx="5.5" ry="3.3" fill="#2f6a24" opacity=".7"/>
<ellipse cx="905.6" cy="775.5" rx="14.5" ry="3.6" fill="#2c3036" opacity=".5"/>
<ellipse cx="903.4" cy="762.5" rx="14.5" ry="11.6" fill="#3a7a2a" />
<ellipse cx="900.5" cy="760.0" rx="11.3" ry="8.7" fill="#57a23a" />
<ellipse cx="899.1" cy="757.4" rx="6.5" ry="4.6" fill="#84cc5c" opacity=".9"/>
<ellipse cx="909.2" cy="759.6" rx="5.5" ry="4.4" fill="#6ab445" />
<ellipse cx="907.0" cy="766.8" rx="7.3" ry="4.4" fill="#2f6a24" opacity=".7"/>
<ellipse cx="950.1" cy="774.6" rx="16.3" ry="4.1" fill="#2c3036" opacity=".5"/>
<ellipse cx="947.7" cy="759.9" rx="16.3" ry="13.0" fill="#3a7a2a" />
<ellipse cx="944.4" cy="757.1" rx="12.7" ry="9.8" fill="#57a23a" />
<ellipse cx="942.8" cy="754.2" rx="7.3" ry="5.2" fill="#84cc5c" opacity=".9"/>
<ellipse cx="954.2" cy="756.6" rx="6.2" ry="4.9" fill="#6ab445" />
<ellipse cx="951.8" cy="764.8" rx="8.2" ry="4.9" fill="#2f6a24" opacity=".7"/>
<ellipse cx="991.2" cy="774.5" rx="18.1" ry="4.5" fill="#2c3036" opacity=".5"/>
<ellipse cx="988.5" cy="758.2" rx="18.1" ry="14.5" fill="#3a7a2a" />
<ellipse cx="984.8" cy="755.1" rx="14.1" ry="10.8" fill="#57a23a" />
<ellipse cx="983.0" cy="751.9" rx="8.1" ry="5.8" fill="#84cc5c" opacity=".9"/>
<ellipse cx="995.7" cy="754.6" rx="6.9" ry="5.4" fill="#6ab445" />
<ellipse cx="993.0" cy="763.6" rx="9.0" ry="5.4" fill="#2f6a24" opacity=".7"/>
<ellipse cx="1027.3" cy="769.5" rx="11.0" ry="2.7" fill="#2c3036" opacity=".5"/>
<ellipse cx="1025.7" cy="759.6" rx="11.0" ry="8.8" fill="#3a7a2a" />
<ellipse cx="1023.5" cy="757.8" rx="8.6" ry="6.6" fill="#57a23a" />
<ellipse cx="1022.4" cy="755.8" rx="4.9" ry="3.5" fill="#84cc5c" opacity=".9"/>
<ellipse cx="1030.1" cy="757.4" rx="4.2" ry="3.3" fill="#6ab445" />
<ellipse cx="1028.4" cy="762.9" rx="5.5" ry="3.3" fill="#2f6a24" opacity=".7"/>
<ellipse cx="859.5" cy="775.0" rx="17.7" ry="4.4" fill="#2c3036" opacity=".5"/>
<ellipse cx="856.8" cy="759.1" rx="17.7" ry="14.2" fill="#3a7a2a" />
<ellipse cx="853.3" cy="756.1" rx="13.8" ry="10.6" fill="#57a23a" />
<ellipse cx="851.5" cy="752.9" rx="8.0" ry="5.7" fill="#84cc5c" opacity=".9"/>
<ellipse cx="863.9" cy="755.5" rx="6.7" ry="5.3" fill="#6ab445" />
<ellipse cx="861.2" cy="764.4" rx="8.9" ry="5.3" fill="#2f6a24" opacity=".7"/>
</g>
<ellipse cx="851.5" cy="775.0" rx="14.2" ry="6.7" fill="#25282d" />
<polygon points="721.3,774.1 722.5,774.1 722.5,777.3 721.3,777.3" fill="#4a4a55" />
<polygon points="725.2,775.0 726.4,775.0 726.4,778.2 725.2,778.2" fill="#3f8a6a" />
<polygon points="742.5,761.7 743.8,761.7 743.8,764.9 742.5,764.9" fill="#2f2f38" />
<polygon points="758.5,760.0 759.7,760.0 759.7,763.2 758.5,763.2" fill="#2f2f38" />
<polygon points="762.9,759.1 764.1,759.1 764.1,762.3 762.9,762.3" fill="#7a4a4a" />
<polygon points="767.0,760.9 768.2,760.9 768.2,764.0 767.0,764.0" fill="#4a4a55" />
<polygon points="771.8,772.7 773.0,772.7 773.0,775.9 771.8,775.9" fill="#4a4a55" />
<polygon points="776.2,771.5 777.4,771.5 777.4,774.7 776.2,774.7" fill="#3f8a6a" />
<polygon points="783.3,752.0 784.5,752.0 784.5,755.2 783.3,755.2" fill="#3f8a6a" />
<polygon points="787.7,754.7 788.9,754.7 788.9,757.8 787.7,757.8" fill="#2f2f38" />
<polygon points="792.1,755.5 793.4,755.5 793.4,758.7 792.1,758.7" fill="#7a4a4a" />
<polygon points="793.6,776.8 794.8,776.8 794.8,780.0 793.6,780.0" fill="#e8e8e8" />
<polygon points="746.4,775.9 747.7,775.9 747.7,779.1 746.4,779.1" fill="#3f8a6a" />
<polygon points="758.5,769.7 759.7,769.7 759.7,772.9 758.5,772.9" fill="#4a4a55" />
</g></g></svg>
<svg class="abs" id="photo2" style="left:1028px;top:620px" width="200" height="256" viewBox="1028 620 200 256">
<defs>
<clipPath id="c2"><rect x="1032.4" y="624.7" width="191.6" height="247.0"/></clipPath>
<linearGradient id="sky2" x1="0" y1="0" x2="0" y2="1"><stop offset="0" stop-color="#1f63bd"/><stop offset=".3" stop-color="#3b80d2"/><stop offset=".6" stop-color="#6ea3df"/><stop offset=".82" stop-color="#a9c8eb"/><stop offset=".93" stop-color="#dfeaf6"/><stop offset="1" stop-color="#eef3f9"/></linearGradient>
<linearGradient id="hz2" x1="0" y1="0" x2="1" y2="0"><stop offset="0" stop-color="#fff" stop-opacity=".55"/><stop offset=".35" stop-color="#fff" stop-opacity=".22"/><stop offset=".75" stop-color="#fff" stop-opacity="0"/></linearGradient>
<radialGradient id="sun2" cx=".5" cy=".5" r=".5"><stop offset="0" stop-color="#fff" stop-opacity="1"/><stop offset=".25" stop-color="#fff" stop-opacity=".85"/><stop offset=".6" stop-color="#fff" stop-opacity=".3"/><stop offset="1" stop-color="#fff" stop-opacity="0"/></radialGradient>
<clipPath id="face"><polygon points="1075.0,707.8 1161.2,643.4 1162.2,643.4 1162,852 1067.5,852.8 1067.5,822.5 1073.0,821.2 1073.0,817.3 1082.3,816.2 1085.0,813.4 1085.0,765.8 1075.3,760.0"/></clipPath>
<clipPath id="side"><polygon points="1162.2,644.4 1180.3,696.9 1180.3,851 1161.5,851"/></clipPath>
<filter id="f2" x="-5%" y="-5%" width="110%" height="110%"><feGaussianBlur stdDeviation=".5"/></filter>
<filter id="f2c" x="-30%" y="-50%" width="160%" height="200%"><feGaussianBlur stdDeviation="2.2"/></filter>
</defs>
<g clip-path="url(#c2)"><g filter="url(#f2)">
<rect x="1030.4" y="622.7" width="195.6" height="251.0" fill="url(#sky2)"/>
<rect x="1030.4" y="622.7" width="195.6" height="251.0" fill="url(#hz2)"/>
<circle cx="1040" cy="632" r="42" fill="url(#sun2)"/>
<ellipse cx="1062" cy="655" rx="26" ry="12" fill="#fff" opacity=".25" filter="url(#f2c)" transform="rotate(25 1062 655)"/>
<ellipse cx="1186.2" cy="645.0" rx="23.4" ry="5.9" fill="#fff" opacity="0.7" filter="url(#f2c)" transform="rotate(-22 1186.2 645.0)"/>
<ellipse cx="1212.8" cy="632.5" rx="10.9" ry="4.7" fill="#fff" opacity="0.75" filter="url(#f2c)" transform="rotate(-30 1212.8 632.5)"/>
<ellipse cx="1170.6" cy="649.7" rx="9.4" ry="3.4" fill="#fff" opacity="0.5" filter="url(#f2c)" transform="rotate(-15 1170.6 649.7)"/>
<ellipse cx="1203.4" cy="677.8" rx="18.8" ry="8.6" fill="#fff" opacity="0.85" filter="url(#f2c)" transform="rotate(0 1203.4 677.8)"/>
<ellipse cx="1215.9" cy="671.6" rx="7.8" ry="4.7" fill="#fff" opacity="0.6" filter="url(#f2c)" transform="rotate(-20 1215.9 671.6)"/>
<ellipse cx="1190.9" cy="674.7" rx="7.8" ry="3.9" fill="#fff" opacity="0.5" filter="url(#f2c)" transform="rotate(0 1190.9 674.7)"/>
<polygon points="1161.6,643.4 1180.3,696.9 1180.3,851 1161.5,851" fill="#e6e6ea" />
<polygon points="1161.6,643.4 1162.8,643.4 1163.4,851 1161.5,851" fill="#f4f4f6" />
<g clip-path="url(#side)">
<polygon points="1167.0,655.3 1178.2,661.5 1178.2,667.7 1167.0,661.5" fill="#5d636d" />
<polygon points="1167.0,669.1 1178.2,674.6 1178.2,680.8 1167.0,675.3" fill="#5d636d" />
<polygon points="1167.0,683.0 1178.2,687.8 1178.2,694.0 1167.0,689.2" fill="#5d636d" />
<polygon points="1167.0,696.8 1178.2,700.9 1178.2,707.1 1167.0,703.0" fill="#5d636d" />
<polygon points="1167.0,710.6 1178.2,714.1 1178.2,720.3 1167.0,716.8" fill="#5d636d" />
<polygon points="1167.0,724.5 1178.2,727.2 1178.2,733.4 1167.0,730.7" fill="#5d636d" />
<polygon points="1167.0,738.3 1178.2,740.4 1178.2,746.6 1167.0,744.5" fill="#5d636d" />
<polygon points="1167.0,752.1 1178.2,753.5 1178.2,759.7 1167.0,758.3" fill="#5d636d" />
<polygon points="1167.0,766.0 1178.2,766.7 1178.2,772.9 1167.0,772.2" fill="#5d636d" />
<polygon points="1167.0,779.8 1178.2,779.8 1178.2,786.0 1167.0,786.0" fill="#5d636d" />
<polygon points="1167.0,794.0 1178.2,794.0 1178.2,800.2 1167.0,800.2" fill="#5d636d" />
<polygon points="1167.0,808.2 1178.2,808.2 1178.2,814.4 1167.0,814.4" fill="#5d636d" />
<polygon points="1167.0,822.4 1178.2,822.4 1178.2,828.6 1167.0,828.6" fill="#5d636d" />
<polygon points="1167.0,836.6 1178.2,836.6 1178.2,842.8 1167.0,842.8" fill="#5d636d" />
<polygon points="1167.0,850.8 1178.2,850.8 1178.2,857.0 1167.0,857.0" fill="#5d636d" />
</g>
<g clip-path="url(#face)">
<rect x="1060" y="640" width="110" height="220" fill="#4d5662"/>
<polygon points="1060,717.9 1161.5,641.42 1161.5,646.03 1060,720.79" fill="#efece8" />
<polygon points="1060,720.79 1161.5,646.03 1161.5,649.04 1060,722.67" fill="#2e3138" />
<polygon points="1060,714.64 1161.5,636.21 1161.5,641.42 1060,717.9" fill="#6f7c8a" />
<polygon points="1060,726.81 1161.5,655.65 1161.5,660.26 1060,729.7" fill="#efece8" />
<polygon points="1060,729.7 1161.5,660.26 1161.5,663.26 1060,731.58" fill="#2e3138" />
<polygon points="1060,723.55 1161.5,650.44 1161.5,655.65 1060,726.81" fill="#6f7c8a" />
<polygon points="1060,735.72 1161.5,669.88 1161.5,674.48 1060,738.61" fill="#efece8" />
<polygon points="1060,738.61 1161.5,674.48 1161.5,677.49 1060,740.49" fill="#2e3138" />
<polygon points="1060,732.46 1161.5,664.67 1161.5,669.88 1060,735.72" fill="#6f7c8a" />
<polygon points="1060,744.63 1161.5,684.1 1161.5,688.71 1060,747.51" fill="#efece8" />
<polygon points="1060,747.51 1161.5,688.71 1161.5,691.72 1060,749.39" fill="#2e3138" />
<polygon points="1060,741.37 1161.5,678.89 1161.5,684.1 1060,744.63" fill="#6f7c8a" />
<polygon points="1060,753.54 1161.5,698.33 1161.5,702.94 1060,756.42" fill="#efece8" />
<polygon points="1060,756.42 1161.5,702.94 1161.5,705.94 1060,758.3" fill="#2e3138" />
<polygon points="1060,750.27 1161.5,693.12 1161.5,698.33 1060,753.54" fill="#6f7c8a" />
<polygon points="1060,762.44 1161.5,712.55 1161.5,717.16 1060,765.33" fill="#efece8" />
<polygon points="1060,765.33 1161.5,717.16 1161.5,720.17 1060,767.21" fill="#2e3138" />
<polygon points="1060,759.18 1161.5,707.34 1161.5,712.55 1060,762.44" fill="#6f7c8a" />
<polygon points="1060,771.35 1161.5,726.78 1161.5,731.39 1060,774.24" fill="#efece8" />
<polygon points="1060,774.24 1161.5,731.39 1161.5,734.39 1060,776.12" fill="#2e3138" />
<polygon points="1060,768.09 1161.5,721.57 1161.5,726.78 1060,771.35" fill="#6f7c8a" />
<polygon points="1060,780.26 1161.5,741.01 1161.5,745.62 1060,783.14" fill="#efece8" />
<polygon points="1060,783.14 1161.5,745.62 1161.5,748.62 1060,785.03" fill="#2e3138" />
<polygon points="1060,777.0 1161.5,735.8 1161.5,741.01 1060,780.26" fill="#6f7c8a" />
<polygon points="1060,789.17 1161.5,755.23 1161.5,759.84 1060,792.05" fill="#efece8" />
<polygon points="1060,792.05 1161.5,759.84 1161.5,762.85 1060,793.93" fill="#2e3138" />
<polygon points="1060,785.9 1161.5,750.02 1161.5,755.23 1060,789.17" fill="#6f7c8a" />
<polygon points="1060,798.07 1161.5,769.46 1161.5,774.07 1060,800.96" fill="#efece8" />
<polygon points="1060,800.96 1161.5,774.07 1161.5,777.07 1060,802.84" fill="#2e3138" />
<polygon points="1060,794.81 1161.5,764.25 1161.5,769.46 1060,798.07" fill="#6f7c8a" />
<polygon points="1060,806.98 1161.5,783.69 1161.5,788.29 1060,809.87" fill="#efece8" />
<polygon points="1060,809.87 1161.5,788.29 1161.5,791.3 1060,811.75" fill="#2e3138" />
<polygon points="1060,803.72 1161.5,778.48 1161.5,783.69 1060,806.98" fill="#6f7c8a" />
<polygon points="1060,815.89 1161.5,797.91 1161.5,802.52 1060,818.77" fill="#efece8" />
<polygon points="1060,818.77 1161.5,802.52 1161.5,805.53 1060,820.66" fill="#2e3138" />
<polygon points="1060,812.63 1161.5,792.7 1161.5,797.91 1060,815.89" fill="#6f7c8a" />
<polygon points="1060,824.8 1161.5,812.14 1161.5,816.75 1060,827.68" fill="#efece8" />
<polygon points="1060,827.68 1161.5,816.75 1161.5,819.75 1060,829.56" fill="#2e3138" />
<polygon points="1060,821.54 1161.5,806.93 1161.5,812.14 1060,824.8" fill="#6f7c8a" />
<polygon points="1060,833.7 1161.5,826.36 1161.5,830.97 1060,836.59" fill="#efece8" />
<polygon points="1060,836.59 1161.5,830.97 1161.5,833.98 1060,838.47" fill="#2e3138" />
<polygon points="1060,830.44 1161.5,821.15 1161.5,826.36 1060,833.7" fill="#6f7c8a" />
<polygon points="1060,842.61 1161.5,840.59 1161.5,845.2 1060,845.5" fill="#efece8" />
<polygon points="1060,845.5 1161.5,845.2 1161.5,848.2 1060,847.38" fill="#2e3138" />
<polygon points="1060,839.35 1161.5,835.38 1161.5,840.59 1060,842.61" fill="#6f7c8a" />
<polygon points="1060,851.52 1161.5,854.82 1161.5,859.42 1060,854.41" fill="#efece8" />
<polygon points="1060,854.41 1161.5,859.42 1161.5,862.43 1060,856.29" fill="#2e3138" />
<polygon points="1060,848.26 1161.5,849.61 1161.5,854.82 1060,851.52" fill="#6f7c8a" />
<polygon points="1060,860.43 1161.5,869.04 1161.5,873.65 1060,863.31" fill="#efece8" />
<polygon points="1060,863.31 1161.5,873.65 1161.5,876.66 1060,865.2" fill="#2e3138" />
<polygon points="1060,857.17 1161.5,863.83 1161.5,869.04 1060,860.43" fill="#6f7c8a" />
<polygon points="1075.0,707.8 1161.2,643.4 1161.2,648.9 1075.0,713.8" fill="#8d8278" />
<polygon points="1075.0,707.8 1161.2,643.4 1161.2,645.0 1075.0,709.5" fill="#d9d6d2" />
<polygon points="1085.0,763.4 1111.2,749.4 1111.2,813.4 1085.0,813.4" fill="#2d3138" opacity=".38"/>
<polygon points="1128.8,665.3 1131.9,663.0 1132.2,852 1129,852" fill="#8d8379" />
<polygon points="1153,650 1160,645 1160,851 1153,851" fill="#2f3238" opacity=".35"/>
</g>
<polygon points="1082.0,768.1 1085.0,766.6 1085.0,813.4 1082.0,815.0" fill="#dfe0e4" />
<polygon points="1082.7,770.5 1084.2,770.2 1084.2,773.6 1082.7,773.9" fill="#6a707a" />
<polygon points="1082.7,780.2 1084.2,779.8 1084.2,783.3 1082.7,783.6" fill="#6a707a" />
<polygon points="1082.7,789.8 1084.2,789.5 1084.2,793.0 1082.7,793.3" fill="#6a707a" />
<polygon points="1082.7,799.5 1084.2,799.2 1084.2,802.7 1082.7,803.0" fill="#6a707a" />
<polygon points="1082.7,809.2 1084.2,808.9 1084.2,812.3 1082.7,812.7" fill="#6a707a" />
<circle cx="1091.2" cy="703.6" r="9" fill="url(#sun2)"/>
<ellipse cx="1091.2" cy="703.6" rx="16" ry="1.6" fill="#fff" opacity=".55" transform="rotate(-37 1091.2 703.6)"/>
<polygon points="1073.0,816.9 1083.1,815.6 1083.1,820.5 1073.0,821.6" fill="#7fa6c8" opacity=".85"/>
<polygon points="1132.3,849.4 1180.8,851.2 1180.8,862.7 1137.8,864.2 1132.3,863.4" fill="#34383e" />
<polygon points="1139.4,852.5 1159.7,852.8 1159.7,863.4 1139.4,863.8" fill="#4a4f56" />
<polygon points="1037.0,853.8 1125.3,851.2 1130.0,852.8 1047.2,855.6" fill="#3b3e44" />
<polygon points="1037.8,856.4 1117.5,854.8 1137.8,855.6 1137.8,864.2 1037.8,863.4" fill="#4f7f3c" />
<polygon points="1048.8,856.9 1117.5,855.6 1117.5,859.1 1048.8,860.0" fill="#6c9c4e" />
<ellipse cx="1127.7" cy="857.2" rx="9" ry="7" fill="#6f9a58"/>
<polygon points="1037.8,857.5 1049.5,856.9 1049.5,862.7 1037.8,863.1" fill="#9fb99a" />
<polygon points="1180.8,857.5 1195.3,857.2 1195.3,863.4 1180.8,863.4" fill="#5a5d62" />
<polygon points="1031.6,863.1 1224.5,861.9 1224.5,872.8 1031.6,872.8" fill="#c4c7cc" />
<polygon points="1081.6,869.7 1117.5,865.0 1191.7,863.4 1191.7,870.9 1139.4,872.0" fill="#c39d8c" />
<polygon points="1031.6,863.4 1139.4,863.4 1112.8,865.3 1031.6,865.9" fill="#dfe1e4" />
<polygon points="1192.5,860.6 1193.6,860.6 1193.6,870.0 1192.5,870.0" fill="#4d4a48" />
<polygon points="1195.9,860.6 1197.0,860.6 1197.0,870.0 1195.9,870.0" fill="#4d4a48" />
<polygon points="1199.4,860.6 1200.5,860.6 1200.5,870.0 1199.4,870.0" fill="#4d4a48" />
<polygon points="1202.8,860.6 1203.9,860.6 1203.9,870.0 1202.8,870.0" fill="#4d4a48" />
<polygon points="1206.2,860.6 1207.3,860.6 1207.3,870.0 1206.2,870.0" fill="#4d4a48" />
<polygon points="1209.7,860.6 1210.8,860.6 1210.8,870.0 1209.7,870.0" fill="#4d4a48" />
<polygon points="1213.1,860.6 1214.2,860.6 1214.2,870.0 1213.1,870.0" fill="#4d4a48" />
<polygon points="1216.6,860.6 1217.7,860.6 1217.7,870.0 1216.6,870.0" fill="#4d4a48" />
<polygon points="1220.0,860.6 1221.1,860.6 1221.1,870.0 1220.0,870.0" fill="#4d4a48" />
<polygon points="1192.5,863.4 1223.8,862.8 1223.8,863.9 1192.5,864.5" fill="#5d5a57" />
<polygon points="1192.5,866.9 1223.8,866.2 1223.8,867.3 1192.5,868.0" fill="#5d5a57" />
<polygon points="1201.9,860.0 1223.0,860.0 1223.0,863.4 1201.9,863.4" fill="#aeb4ba" opacity=".7"/>
</g></g></svg>
<div class="abs nw" id="prname" style="left:709.5px;top:788px;font-size:20.1px;line-height:34px;font-weight:900;color:#111">ワコーレ加古川駅前</div>
<div class="abs nw cap" style="left:712px;top:820.5px"><span style="margin-left:-8.4px">【</span>兵庫県加古川市<span style="margin-right:-.6px">】</span> 総戸数<span class="n" style="font-size:16.4px;letter-spacing:1.1px;font-weight:bold;transform:scaleX(0.85);transform-origin:0 50%;margin-right:-3.07px;">63</span>戸</div>
<div class="abs nw cap" style="left:713px;top:840.2px"><span class="n" style="font-size:16.4px;letter-spacing:1.0px;font-weight:bold;transform:scaleX(0.88);transform-origin:0 50%;margin-right:-2.43px;">JR</span><span style="margin-left:-8.4px">「</span>加古川<span style="margin-right:-8.6px">」</span>駅<span style="margin-right:-4.5px">　</span>徒歩<span class="n" style="font-size:16.4px;letter-spacing:1.1px;font-weight:bold;transform:scaleX(0.85);transform-origin:0 50%;margin-right:-1.53px;">1</span>分</div>
<div class="abs nw cap" style="left:713px;top:859.8px"><span class="n" style="font-size:16.4px;letter-spacing:1.1px;font-weight:bold;transform:scaleX(0.85);transform-origin:0 50%;margin-right:-6.13px;">2025</span>年<span class="n" style="font-size:16.4px;letter-spacing:1.1px;font-weight:bold;transform:scaleX(0.85);transform-origin:0 50%;margin-right:-3.07px;">12</span>月発売予定<span style="margin-right:-5.5px">、</span><span class="n" style="font-size:16.4px;letter-spacing:1.1px;font-weight:bold;transform:scaleX(0.85);transform-origin:0 50%;margin-right:-6.13px;">2027</span>年<span class="n" style="font-size:16.4px;letter-spacing:1.1px;font-weight:bold;transform:scaleX(0.85);transform-origin:0 50%;margin-right:-1.53px;">7</span>月引渡予定</div>

<!-- ================= FOOTER ================= -->
<div id="ftr"></div>
<div id="ftrtxt">Copyright © 2025  Wadakohsan Corporation All rights Reserved.</div>
<div id="pgno">22</div>

<div id="frame"></div>
</div>
</body>
</html>
